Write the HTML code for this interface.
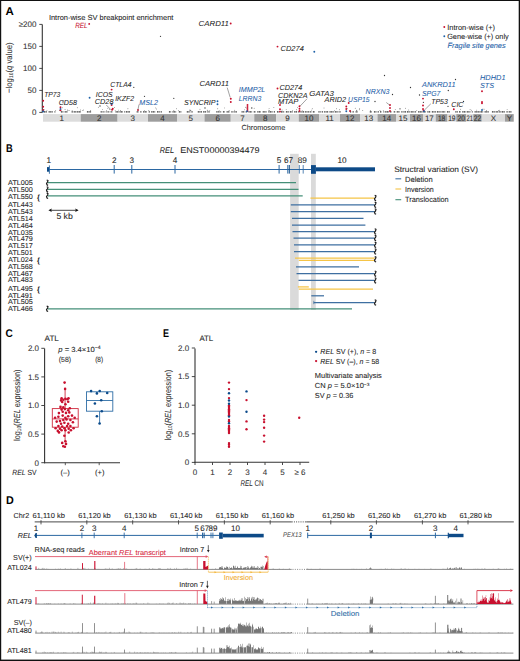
<!DOCTYPE html>
<html><head><meta charset="utf-8"><style>
html,body{margin:0;padding:0;background:#fff;width:520px;height:661px;overflow:hidden;}
svg{display:block;font-family:"Liberation Sans",sans-serif;text-rendering:geometricPrecision;}
</style></head><body>
<svg width="520" height="661" viewBox="0 0 520 661" font-family="Liberation Sans, sans-serif">
<text x="5.40" y="14.80" font-size="11.2" fill="#000" font-weight="bold" textLength="8.30" lengthAdjust="spacingAndGlyphs">A</text>
<text x="48.90" y="19.93" font-size="7.4" fill="#262626" stroke="#262626" stroke-width="0.08" textLength="124.50" lengthAdjust="spacingAndGlyphs">Intron-wise SV breakpoint enrichment</text>
<text x="75.30" y="28.30" font-size="7.6" fill="#c8102e" stroke="#c8102e" stroke-width="0.08" font-style="italic" textLength="12.30" lengthAdjust="spacingAndGlyphs">REL</text>
<circle cx="89.20" cy="23.90" r="0.95" fill="#c8102e"/>
<line x1="42.30" y1="24.40" x2="42.30" y2="112.60" stroke="#333" stroke-width="1.1" />
<line x1="39.30" y1="24.40" x2="42.30" y2="24.40" stroke="#333" stroke-width="0.9" />
<text x="36.40" y="27.24" font-size="8.0" fill="#333" stroke="#333" stroke-width="0.08" text-anchor="end">≥200</text>
<line x1="39.30" y1="46.40" x2="42.30" y2="46.40" stroke="#333" stroke-width="0.9" />
<text x="36.40" y="49.24" font-size="8.0" fill="#333" stroke="#333" stroke-width="0.08" text-anchor="end">150</text>
<line x1="39.30" y1="68.40" x2="42.30" y2="68.40" stroke="#333" stroke-width="0.9" />
<text x="36.40" y="71.24" font-size="8.0" fill="#333" stroke="#333" stroke-width="0.08" text-anchor="end">100</text>
<line x1="39.30" y1="90.40" x2="42.30" y2="90.40" stroke="#333" stroke-width="0.9" />
<text x="36.40" y="93.24" font-size="8.0" fill="#333" stroke="#333" stroke-width="0.08" text-anchor="end">50</text>
<line x1="39.30" y1="112.40" x2="42.30" y2="112.40" stroke="#333" stroke-width="0.9" />
<text x="36.40" y="115.24" font-size="8.0" fill="#333" stroke="#333" stroke-width="0.08" text-anchor="end">0</text>
<text x="8.55" y="70.75" font-size="8.6" fill="#333" stroke="#333" stroke-width="0.08" text-anchor="middle" textLength="50.60" lengthAdjust="spacingAndGlyphs" transform="rotate(-90 8.55 67.70)">−log<tspan font-size="5.5" dy="1.6">10</tspan><tspan dy="-1.6">(</tspan><tspan font-style="italic">q</tspan> value)</text>
<rect x="43.00" y="114.10" width="37.70" height="7.60" fill="#dcdcdc"/>
<rect x="80.70" y="114.10" width="36.90" height="7.60" fill="#9d9d9d"/>
<rect x="117.60" y="114.10" width="30.40" height="7.60" fill="#dcdcdc"/>
<rect x="148.00" y="114.10" width="29.00" height="7.60" fill="#9d9d9d"/>
<rect x="177.00" y="114.10" width="27.50" height="7.60" fill="#dcdcdc"/>
<rect x="204.50" y="114.10" width="26.25" height="7.60" fill="#9d9d9d"/>
<rect x="230.75" y="114.10" width="23.50" height="7.60" fill="#dcdcdc"/>
<rect x="254.25" y="114.10" width="22.00" height="7.60" fill="#9d9d9d"/>
<rect x="276.25" y="114.10" width="22.50" height="7.60" fill="#dcdcdc"/>
<rect x="298.75" y="114.10" width="20.50" height="7.60" fill="#9d9d9d"/>
<rect x="319.25" y="114.10" width="20.75" height="7.60" fill="#dcdcdc"/>
<rect x="340.00" y="114.10" width="20.00" height="7.60" fill="#9d9d9d"/>
<rect x="360.00" y="114.10" width="17.50" height="7.60" fill="#dcdcdc"/>
<rect x="377.50" y="114.10" width="18.50" height="7.60" fill="#9d9d9d"/>
<rect x="396.00" y="114.10" width="14.00" height="7.60" fill="#dcdcdc"/>
<rect x="410.00" y="114.10" width="13.00" height="7.60" fill="#9d9d9d"/>
<rect x="423.00" y="114.10" width="12.75" height="7.60" fill="#dcdcdc"/>
<rect x="435.75" y="114.10" width="11.75" height="7.60" fill="#9d9d9d"/>
<rect x="447.50" y="114.10" width="8.75" height="7.60" fill="#dcdcdc"/>
<rect x="456.25" y="114.10" width="10.00" height="7.60" fill="#9d9d9d"/>
<rect x="466.25" y="114.10" width="7.00" height="7.60" fill="#dcdcdc"/>
<rect x="473.25" y="114.10" width="8.50" height="7.60" fill="#9d9d9d"/>
<rect x="481.75" y="114.10" width="23.25" height="7.60" fill="#dcdcdc"/>
<rect x="505.00" y="114.10" width="8.75" height="7.60" fill="#9d9d9d"/>
<text x="61.85" y="120.94" font-size="8.0" fill="#333" stroke="#333" stroke-width="0.08" text-anchor="middle">1</text>
<text x="99.15" y="120.94" font-size="8.0" fill="#333" stroke="#333" stroke-width="0.08" text-anchor="middle">2</text>
<text x="132.80" y="120.94" font-size="8.0" fill="#333" stroke="#333" stroke-width="0.08" text-anchor="middle">3</text>
<text x="162.50" y="120.94" font-size="8.0" fill="#333" stroke="#333" stroke-width="0.08" text-anchor="middle">4</text>
<text x="190.75" y="120.94" font-size="8.0" fill="#333" stroke="#333" stroke-width="0.08" text-anchor="middle">5</text>
<text x="217.62" y="120.94" font-size="8.0" fill="#333" stroke="#333" stroke-width="0.08" text-anchor="middle">6</text>
<text x="242.50" y="120.94" font-size="8.0" fill="#333" stroke="#333" stroke-width="0.08" text-anchor="middle">7</text>
<text x="265.25" y="120.94" font-size="8.0" fill="#333" stroke="#333" stroke-width="0.08" text-anchor="middle">8</text>
<text x="287.50" y="120.94" font-size="8.0" fill="#333" stroke="#333" stroke-width="0.08" text-anchor="middle">9</text>
<text x="309.00" y="120.94" font-size="8.0" fill="#333" stroke="#333" stroke-width="0.08" text-anchor="middle">10</text>
<text x="329.62" y="120.94" font-size="8.0" fill="#333" stroke="#333" stroke-width="0.08" text-anchor="middle">11</text>
<text x="350.00" y="120.94" font-size="8.0" fill="#333" stroke="#333" stroke-width="0.08" text-anchor="middle">12</text>
<text x="368.75" y="120.94" font-size="8.0" fill="#333" stroke="#333" stroke-width="0.08" text-anchor="middle">13</text>
<text x="386.75" y="120.94" font-size="8.0" fill="#333" stroke="#333" stroke-width="0.08" text-anchor="middle">14</text>
<text x="403.00" y="120.94" font-size="8.0" fill="#333" stroke="#333" stroke-width="0.08" text-anchor="middle">15</text>
<text x="416.50" y="120.94" font-size="8.0" fill="#333" stroke="#333" stroke-width="0.08" text-anchor="middle">16</text>
<text x="429.38" y="120.94" font-size="8.0" fill="#333" stroke="#333" stroke-width="0.08" text-anchor="middle">17</text>
<text x="437.93" y="120.94" font-size="8.0" fill="#333" stroke="#333" stroke-width="0.08" textLength="7.40" lengthAdjust="spacingAndGlyphs">18</text>
<text x="448.18" y="120.94" font-size="8.0" fill="#333" stroke="#333" stroke-width="0.08" textLength="7.40" lengthAdjust="spacingAndGlyphs">19</text>
<text x="457.55" y="120.94" font-size="8.0" fill="#333" stroke="#333" stroke-width="0.08" textLength="7.40" lengthAdjust="spacingAndGlyphs">20</text>
<text x="466.55" y="120.94" font-size="8.0" fill="#333" stroke="#333" stroke-width="0.08" textLength="6.40" lengthAdjust="spacingAndGlyphs">21</text>
<text x="473.80" y="120.94" font-size="8.0" fill="#333" stroke="#333" stroke-width="0.08" textLength="7.40" lengthAdjust="spacingAndGlyphs">22</text>
<text x="493.38" y="120.94" font-size="8.0" fill="#333" stroke="#333" stroke-width="0.08" text-anchor="middle">X</text>
<text x="509.38" y="120.94" font-size="8.0" fill="#333" stroke="#333" stroke-width="0.08" text-anchor="middle">Y</text>
<text x="241.40" y="129.63" font-size="7.4" fill="#333" stroke="#333" stroke-width="0.08" textLength="43.80" lengthAdjust="spacingAndGlyphs">Chromosome</text>
<path d="M44.00,111.8H46.98 M48.59,111.8H52.69 M54.48,111.8H55.38 M60.94,111.8H63.38 M64.64,111.8H67.45 M71.60,111.8H72.96 M73.65,111.8H76.61 M77.12,111.8H80.97 M86.91,111.8H91.08 M100.61,111.8H102.68 M103.38,111.8H104.41 M105.75,111.8H106.56 M107.54,111.8H109.42 M110.59,111.8H112.50 M115.52,111.8H118.94 M119.47,111.8H123.02 M124.33,111.8H125.17 M125.92,111.8H130.06 M136.66,111.8H138.70 M140.28,111.8H141.46 M143.08,111.8H146.89 M148.71,111.8H149.83 M151.19,111.8H155.20 M156.99,111.8H159.70 M160.64,111.8H162.07 M168.93,111.8H171.15 M172.48,111.8H176.17 M178.80,111.8H181.33 M186.76,111.8H190.32 M191.42,111.8H192.75 M197.74,111.8H201.96 M203.14,111.8H206.49 M207.40,111.8H209.61 M216.28,111.8H218.83 M219.45,111.8H221.20 M222.92,111.8H224.98 M226.57,111.8H229.80 M231.36,111.8H233.43 M234.33,111.8H236.83 M241.53,111.8H244.36 M245.63,111.8H247.31 M248.46,111.8H252.11 M253.73,111.8H255.75 M257.28,111.8H260.98 M262.66,111.8H266.50 M268.37,111.8H272.52 M273.76,111.8H275.14 M276.95,111.8H279.42 M280.93,111.8H284.29 M285.88,111.8H288.71 M289.80,111.8H292.79 M294.18,111.8H297.50 M298.22,111.8H300.57 M301.37,111.8H304.57 M305.13,111.8H307.58 M308.16,111.8H309.43 M310.18,111.8H311.66 M312.81,111.8H314.94 M318.40,111.8H320.62 M321.69,111.8H322.90 M323.92,111.8H324.84 M325.48,111.8H328.19 M329.50,111.8H333.65 M334.74,111.8H338.39 M339.40,111.8H340.70 M350.02,111.8H351.20 M352.56,111.8H353.85 M355.60,111.8H357.72 M369.79,111.8H372.04 M373.92,111.8H376.44 M377.61,111.8H378.84 M379.96,111.8H381.78 M383.44,111.8H384.29 M385.17,111.8H389.24 M390.09,111.8H391.82 M393.71,111.8H395.53 M396.70,111.8H399.76 M401.30,111.8H402.51 M403.43,111.8H406.10 M407.01,111.8H409.67 M410.67,111.8H414.08 M414.63,111.8H416.32 M418.10,111.8H422.01 M422.53,111.8H426.05 M427.36,111.8H430.64 M431.81,111.8H435.80 M436.85,111.8H440.63 M441.55,111.8H445.25 M446.92,111.8H450.15 M455.29,111.8H457.76 M458.96,111.8H460.92 M462.24,111.8H465.88 M466.70,111.8H470.37 M471.80,111.8H472.69 M474.56,111.8H478.85 M479.42,111.8H483.17 M484.57,111.8H488.70 M491.93,111.8H494.86 M495.59,111.8H498.57 M499.22,111.8H501.35 M501.93,111.8H504.74 M506.47,111.8H507.74 M508.68,111.8H511.58" stroke="#333" stroke-width="1.15" fill="none" stroke-dasharray="1.2,0.4"/>
<circle cx="219.12" cy="110.59" r="0.45" fill="#555"/>
<circle cx="370.33" cy="110.52" r="0.45" fill="#555"/>
<circle cx="339.47" cy="109.70" r="0.45" fill="#555"/>
<circle cx="470.08" cy="109.52" r="0.45" fill="#555"/>
<circle cx="334.57" cy="110.36" r="0.45" fill="#555"/>
<circle cx="302.18" cy="110.37" r="0.45" fill="#555"/>
<circle cx="395.27" cy="109.66" r="0.45" fill="#555"/>
<circle cx="106.61" cy="110.41" r="0.45" fill="#555"/>
<circle cx="217.73" cy="108.70" r="0.45" fill="#555"/>
<circle cx="127.92" cy="108.82" r="0.45" fill="#555"/>
<circle cx="350.55" cy="110.57" r="0.45" fill="#555"/>
<circle cx="356.60" cy="110.57" r="0.45" fill="#555"/>
<circle cx="102.40" cy="109.37" r="0.45" fill="#555"/>
<circle cx="155.66" cy="107.91" r="0.45" fill="#555"/>
<circle cx="268.86" cy="110.23" r="0.45" fill="#555"/>
<circle cx="416.74" cy="110.60" r="0.45" fill="#555"/>
<circle cx="383.30" cy="110.59" r="0.45" fill="#555"/>
<circle cx="114.57" cy="107.43" r="0.45" fill="#555"/>
<circle cx="362.76" cy="110.43" r="0.45" fill="#555"/>
<circle cx="98.32" cy="107.29" r="0.45" fill="#555"/>
<circle cx="355.25" cy="108.24" r="0.45" fill="#555"/>
<circle cx="109.41" cy="109.23" r="0.45" fill="#555"/>
<circle cx="209.81" cy="110.41" r="0.45" fill="#555"/>
<circle cx="199.97" cy="109.28" r="0.45" fill="#555"/>
<circle cx="207.18" cy="110.08" r="0.45" fill="#555"/>
<circle cx="107.85" cy="108.18" r="0.45" fill="#555"/>
<circle cx="347.21" cy="108.33" r="0.45" fill="#555"/>
<circle cx="246.83" cy="108.06" r="0.45" fill="#555"/>
<circle cx="286.19" cy="109.37" r="0.45" fill="#555"/>
<circle cx="312.28" cy="108.68" r="0.45" fill="#555"/>
<circle cx="229.10" cy="110.57" r="0.45" fill="#555"/>
<circle cx="59.52" cy="110.46" r="0.45" fill="#555"/>
<circle cx="62.46" cy="107.83" r="0.45" fill="#555"/>
<circle cx="269.10" cy="108.58" r="0.45" fill="#555"/>
<circle cx="44.21" cy="109.83" r="0.45" fill="#555"/>
<circle cx="460.42" cy="109.26" r="0.45" fill="#555"/>
<circle cx="244.61" cy="109.84" r="0.45" fill="#555"/>
<circle cx="90.68" cy="110.52" r="0.45" fill="#555"/>
<circle cx="118.43" cy="110.11" r="0.45" fill="#555"/>
<circle cx="224.49" cy="107.89" r="0.45" fill="#555"/>
<circle cx="115.19" cy="110.37" r="0.45" fill="#555"/>
<circle cx="173.84" cy="110.51" r="0.45" fill="#555"/>
<circle cx="178.34" cy="110.41" r="0.45" fill="#555"/>
<circle cx="269.59" cy="110.60" r="0.45" fill="#555"/>
<circle cx="476.68" cy="110.12" r="0.45" fill="#555"/>
<circle cx="482.96" cy="108.94" r="0.45" fill="#555"/>
<circle cx="359.34" cy="109.82" r="0.45" fill="#555"/>
<circle cx="486.45" cy="110.55" r="0.45" fill="#555"/>
<circle cx="356.89" cy="110.30" r="0.45" fill="#555"/>
<circle cx="359.65" cy="108.74" r="0.45" fill="#555"/>
<circle cx="120.39" cy="110.46" r="0.45" fill="#555"/>
<circle cx="55.67" cy="110.41" r="0.45" fill="#555"/>
<circle cx="80.60" cy="110.04" r="0.45" fill="#555"/>
<circle cx="499.64" cy="110.14" r="0.45" fill="#555"/>
<circle cx="189.94" cy="109.83" r="0.45" fill="#555"/>
<circle cx="176.51" cy="108.72" r="0.45" fill="#555"/>
<circle cx="379.99" cy="110.51" r="0.45" fill="#555"/>
<circle cx="156.57" cy="109.02" r="0.45" fill="#555"/>
<circle cx="484.15" cy="109.14" r="0.45" fill="#555"/>
<circle cx="245.54" cy="107.27" r="0.45" fill="#555"/>
<circle cx="46.94" cy="110.59" r="0.45" fill="#555"/>
<circle cx="408.70" cy="110.01" r="0.45" fill="#555"/>
<circle cx="65.04" cy="109.55" r="0.45" fill="#555"/>
<circle cx="507.14" cy="109.66" r="0.45" fill="#555"/>
<circle cx="207.81" cy="110.57" r="0.45" fill="#555"/>
<circle cx="77.33" cy="107.77" r="0.45" fill="#555"/>
<circle cx="273.86" cy="107.54" r="0.45" fill="#555"/>
<circle cx="69.16" cy="110.39" r="0.45" fill="#555"/>
<circle cx="67.61" cy="110.05" r="0.45" fill="#555"/>
<circle cx="72.14" cy="110.37" r="0.45" fill="#555"/>
<circle cx="234.70" cy="110.27" r="0.45" fill="#555"/>
<circle cx="68.03" cy="110.60" r="0.45" fill="#555"/>
<circle cx="498.72" cy="110.49" r="0.45" fill="#555"/>
<circle cx="282.04" cy="110.03" r="0.45" fill="#555"/>
<circle cx="292.65" cy="110.58" r="0.45" fill="#555"/>
<circle cx="190.90" cy="110.56" r="0.45" fill="#555"/>
<circle cx="297.63" cy="107.63" r="0.45" fill="#555"/>
<circle cx="324.00" cy="108.03" r="0.45" fill="#555"/>
<circle cx="144.34" cy="110.60" r="0.45" fill="#555"/>
<circle cx="296.55" cy="109.77" r="0.45" fill="#555"/>
<circle cx="311.43" cy="110.10" r="0.45" fill="#555"/>
<circle cx="336.55" cy="108.76" r="0.45" fill="#555"/>
<circle cx="471.28" cy="110.27" r="0.45" fill="#555"/>
<circle cx="254.15" cy="108.21" r="0.45" fill="#555"/>
<circle cx="148.82" cy="110.55" r="0.45" fill="#555"/>
<circle cx="189.88" cy="110.57" r="0.45" fill="#555"/>
<circle cx="405.49" cy="108.25" r="0.45" fill="#555"/>
<circle cx="190.43" cy="110.54" r="0.45" fill="#555"/>
<circle cx="82.37" cy="110.39" r="0.45" fill="#555"/>
<circle cx="83.46" cy="109.96" r="0.45" fill="#555"/>
<circle cx="160.50" cy="36.30" r="0.65" fill="#333"/>
<circle cx="173.80" cy="98.30" r="0.65" fill="#333"/>
<circle cx="144.50" cy="96.30" r="0.65" fill="#333"/>
<circle cx="251.80" cy="108.00" r="0.65" fill="#333"/>
<circle cx="384.50" cy="75.50" r="0.65" fill="#333"/>
<circle cx="375.00" cy="101.50" r="0.65" fill="#333"/>
<circle cx="410.50" cy="87.50" r="0.65" fill="#333"/>
<circle cx="392.50" cy="94.50" r="0.65" fill="#333"/>
<circle cx="455.50" cy="79.50" r="0.65" fill="#333"/>
<circle cx="419.50" cy="95.00" r="0.65" fill="#333"/>
<circle cx="448.30" cy="90.50" r="0.65" fill="#333"/>
<circle cx="423.40" cy="102.30" r="0.65" fill="#333"/>
<circle cx="448.00" cy="106.30" r="0.65" fill="#333"/>
<circle cx="400.00" cy="108.80" r="0.65" fill="#333"/>
<circle cx="133.80" cy="87.30" r="0.65" fill="#333"/>
<circle cx="463.50" cy="101.50" r="0.65" fill="#333"/>
<circle cx="63.00" cy="102.00" r="0.65" fill="#333"/>
<circle cx="100.00" cy="106.00" r="0.65" fill="#333"/>
<circle cx="205.00" cy="108.00" r="0.65" fill="#333"/>
<circle cx="43.20" cy="100.70" r="0.95" fill="#c8102e"/>
<circle cx="43.20" cy="106.70" r="0.95" fill="#c8102e"/>
<circle cx="43.20" cy="110.00" r="0.95" fill="#c8102e"/>
<circle cx="60.50" cy="107.30" r="0.95" fill="#c8102e"/>
<circle cx="60.50" cy="110.30" r="0.95" fill="#c8102e"/>
<circle cx="111.60" cy="89.60" r="0.95" fill="#c8102e"/>
<circle cx="111.60" cy="105.00" r="0.95" fill="#c8102e"/>
<circle cx="112.10" cy="109.80" r="0.95" fill="#c8102e"/>
<circle cx="112.80" cy="108.80" r="0.95" fill="#c8102e"/>
<circle cx="138.00" cy="110.00" r="0.95" fill="#c8102e"/>
<circle cx="230.70" cy="23.50" r="0.95" fill="#c8102e"/>
<circle cx="230.80" cy="98.80" r="0.95" fill="#c8102e"/>
<circle cx="230.80" cy="102.00" r="0.95" fill="#c8102e"/>
<circle cx="247.50" cy="105.00" r="0.95" fill="#c8102e"/>
<circle cx="247.50" cy="107.00" r="0.95" fill="#c8102e"/>
<circle cx="247.50" cy="109.00" r="0.95" fill="#c8102e"/>
<circle cx="247.50" cy="111.00" r="0.95" fill="#c8102e"/>
<circle cx="277.50" cy="46.60" r="0.95" fill="#c8102e"/>
<circle cx="277.50" cy="88.50" r="0.95" fill="#c8102e"/>
<circle cx="280.00" cy="105.00" r="0.95" fill="#c8102e"/>
<circle cx="280.00" cy="109.20" r="0.95" fill="#c8102e"/>
<circle cx="280.00" cy="111.60" r="0.95" fill="#c8102e"/>
<circle cx="299.50" cy="106.20" r="0.95" fill="#c8102e"/>
<circle cx="299.50" cy="108.70" r="0.95" fill="#c8102e"/>
<circle cx="299.50" cy="111.00" r="0.95" fill="#c8102e"/>
<circle cx="346.30" cy="106.50" r="0.95" fill="#c8102e"/>
<circle cx="346.30" cy="109.00" r="0.95" fill="#c8102e"/>
<circle cx="348.70" cy="103.00" r="0.95" fill="#c8102e"/>
<circle cx="350.00" cy="111.00" r="0.95" fill="#c8102e"/>
<circle cx="390.00" cy="105.00" r="0.95" fill="#c8102e"/>
<circle cx="390.00" cy="108.00" r="0.95" fill="#c8102e"/>
<circle cx="390.00" cy="111.00" r="0.95" fill="#c8102e"/>
<circle cx="423.00" cy="98.60" r="0.95" fill="#c8102e"/>
<circle cx="423.00" cy="105.50" r="0.95" fill="#c8102e"/>
<circle cx="423.00" cy="109.00" r="0.95" fill="#c8102e"/>
<circle cx="423.60" cy="110.40" r="0.95" fill="#c8102e"/>
<circle cx="453.80" cy="109.30" r="0.95" fill="#c8102e"/>
<circle cx="482.00" cy="91.20" r="0.95" fill="#c8102e"/>
<circle cx="482.00" cy="102.00" r="0.95" fill="#c8102e"/>
<circle cx="482.00" cy="103.20" r="0.95" fill="#c8102e"/>
<circle cx="43.20" cy="111.50" r="0.95" fill="#1f62a8"/>
<circle cx="60.50" cy="108.90" r="0.95" fill="#1f62a8"/>
<circle cx="89.60" cy="97.70" r="0.95" fill="#1f62a8"/>
<circle cx="111.60" cy="104.00" r="0.95" fill="#1f62a8"/>
<circle cx="217.50" cy="101.30" r="0.95" fill="#1f62a8"/>
<circle cx="217.50" cy="104.30" r="0.95" fill="#1f62a8"/>
<circle cx="314.30" cy="51.80" r="0.95" fill="#1f62a8"/>
<circle cx="247.00" cy="111.30" r="0.95" fill="#1f62a8"/>
<circle cx="482.00" cy="110.00" r="0.95" fill="#1f62a8"/>
<circle cx="346.30" cy="111.30" r="0.95" fill="#1f62a8"/>
<circle cx="424.00" cy="111.30" r="0.95" fill="#1f62a8"/>
<text x="44.20" y="96.99" font-size="7.3" fill="#262626" stroke="#262626" stroke-width="0.05" font-style="italic" textLength="16.00" lengthAdjust="spacingAndGlyphs">TP73</text>
<text x="58.70" y="104.69" font-size="7.3" fill="#262626" stroke="#262626" stroke-width="0.05" font-style="italic" textLength="18.20" lengthAdjust="spacingAndGlyphs">CD58</text>
<text x="95.80" y="96.99" font-size="7.3" fill="#262626" stroke="#262626" stroke-width="0.05" font-style="italic" textLength="16.90" lengthAdjust="spacingAndGlyphs">ICOS</text>
<text x="94.80" y="103.79" font-size="7.3" fill="#262626" stroke="#262626" stroke-width="0.05" font-style="italic" textLength="18.70" lengthAdjust="spacingAndGlyphs">CD28</text>
<text x="110.30" y="86.89" font-size="7.3" fill="#262626" stroke="#262626" stroke-width="0.05" font-style="italic" textLength="21.20" lengthAdjust="spacingAndGlyphs">CTLA4</text>
<text x="115.20" y="101.29" font-size="7.3" fill="#262626" stroke="#262626" stroke-width="0.05" font-style="italic" textLength="18.90" lengthAdjust="spacingAndGlyphs">IKZF2</text>
<text x="139.30" y="104.79" font-size="7.3" fill="#1f62a8" stroke="#1f62a8" stroke-width="0.05" font-style="italic" textLength="18.70" lengthAdjust="spacingAndGlyphs">MSL2</text>
<text x="184.00" y="104.99" font-size="7.3" fill="#262626" stroke="#262626" stroke-width="0.05" font-style="italic" textLength="31.50" lengthAdjust="spacingAndGlyphs">SYNCRIP</text>
<text x="198.60" y="26.19" font-size="7.3" fill="#262626" stroke="#262626" stroke-width="0.05" font-style="italic" textLength="30.40" lengthAdjust="spacingAndGlyphs">CARD11</text>
<text x="199.50" y="86.09" font-size="7.3" fill="#262626" stroke="#262626" stroke-width="0.05" font-style="italic" textLength="29.50" lengthAdjust="spacingAndGlyphs">CARD11</text>
<text x="238.80" y="91.89" font-size="7.3" fill="#1f62a8" stroke="#1f62a8" stroke-width="0.05" font-style="italic" textLength="26.50" lengthAdjust="spacingAndGlyphs">IMMP2L</text>
<text x="238.80" y="100.99" font-size="7.3" fill="#1f62a8" stroke="#1f62a8" stroke-width="0.05" font-style="italic" textLength="22.50" lengthAdjust="spacingAndGlyphs">LRRN3</text>
<text x="280.60" y="50.59" font-size="7.3" fill="#262626" stroke="#262626" stroke-width="0.05" font-style="italic" textLength="23.20" lengthAdjust="spacingAndGlyphs">CD274</text>
<text x="279.60" y="89.59" font-size="7.3" fill="#262626" stroke="#262626" stroke-width="0.05" font-style="italic" textLength="22.60" lengthAdjust="spacingAndGlyphs">CD274</text>
<text x="278.00" y="97.89" font-size="7.3" fill="#262626" stroke="#262626" stroke-width="0.05" font-style="italic" textLength="29.50" lengthAdjust="spacingAndGlyphs">CDKN2A</text>
<text x="278.00" y="104.39" font-size="7.3" fill="#262626" stroke="#262626" stroke-width="0.05" font-style="italic" textLength="20.30" lengthAdjust="spacingAndGlyphs">MTAP</text>
<text x="309.30" y="96.39" font-size="7.3" fill="#262626" stroke="#262626" stroke-width="0.05" font-style="italic" textLength="24.50" lengthAdjust="spacingAndGlyphs">GATA3</text>
<text x="324.60" y="102.09" font-size="7.3" fill="#262626" stroke="#262626" stroke-width="0.05" font-style="italic" textLength="21.50" lengthAdjust="spacingAndGlyphs">ARID2</text>
<text x="348.10" y="102.09" font-size="7.3" fill="#1f62a8" stroke="#1f62a8" stroke-width="0.05" font-style="italic" textLength="21.50" lengthAdjust="spacingAndGlyphs">USP15</text>
<text x="365.60" y="93.59" font-size="7.3" fill="#1f62a8" stroke="#1f62a8" stroke-width="0.05" font-style="italic" textLength="23.80" lengthAdjust="spacingAndGlyphs">NRXN3</text>
<text x="422.00" y="87.09" font-size="7.3" fill="#1f62a8" stroke="#1f62a8" stroke-width="0.05" font-style="italic" textLength="33.50" lengthAdjust="spacingAndGlyphs">ANKRD11</text>
<text x="422.00" y="96.39" font-size="7.3" fill="#1f62a8" stroke="#1f62a8" stroke-width="0.05" font-style="italic" textLength="18.30" lengthAdjust="spacingAndGlyphs">SPG7</text>
<text x="431.30" y="103.89" font-size="7.3" fill="#262626" stroke="#262626" stroke-width="0.05" font-style="italic" textLength="16.50" lengthAdjust="spacingAndGlyphs">TP53</text>
<text x="451.30" y="106.89" font-size="7.3" fill="#262626" stroke="#262626" stroke-width="0.05" font-style="italic" textLength="12.20" lengthAdjust="spacingAndGlyphs">CIC</text>
<text x="480.00" y="79.59" font-size="7.3" fill="#1f62a8" stroke="#1f62a8" stroke-width="0.05" font-style="italic" textLength="25.50" lengthAdjust="spacingAndGlyphs">HDHD1</text>
<text x="480.00" y="88.39" font-size="7.3" fill="#1f62a8" stroke="#1f62a8" stroke-width="0.05" font-style="italic" textLength="14.20" lengthAdjust="spacingAndGlyphs">STS</text>
<line x1="106.30" y1="105.00" x2="111.00" y2="109.80" stroke="#444" stroke-width="0.5" />
<line x1="227.20" y1="87.60" x2="230.20" y2="97.40" stroke="#444" stroke-width="0.5" />
<line x1="307.00" y1="98.80" x2="300.20" y2="106.00" stroke="#444" stroke-width="0.5" />
<line x1="386.30" y1="102.50" x2="389.60" y2="105.00" stroke="#444" stroke-width="0.5" />
<line x1="430.80" y1="103.80" x2="424.50" y2="110.00" stroke="#444" stroke-width="0.5" />
<line x1="139.00" y1="104.50" x2="138.00" y2="109.50" stroke="#444" stroke-width="0.5" />
<circle cx="444.30" cy="27.00" r="0.95" fill="#c8102e"/>
<text x="447.20" y="29.76" font-size="7.5" fill="#262626" stroke="#262626" stroke-width="0.08" textLength="47.80" lengthAdjust="spacingAndGlyphs">Intron-wise (+)</text>
<circle cx="444.30" cy="36.30" r="0.95" fill="#1f62a8"/>
<text x="447.20" y="38.96" font-size="7.5" fill="#262626" stroke="#262626" stroke-width="0.08" textLength="61.50" lengthAdjust="spacingAndGlyphs">Gene-wise (+) only</text>
<text x="447.60" y="47.76" font-size="7.5" fill="#1f62a8" stroke="#1f62a8" stroke-width="0.08" font-style="italic" textLength="58.00" lengthAdjust="spacingAndGlyphs">Fragile site genes</text>
<text x="6.00" y="151.90" font-size="11.2" fill="#000" font-weight="bold" textLength="6.70" lengthAdjust="spacingAndGlyphs">B</text>
<text x="159.70" y="153.18" font-size="8.4" fill="#262626" stroke="#262626" stroke-width="0.08" font-style="italic" textLength="14.30" lengthAdjust="spacingAndGlyphs">REL</text>
<text x="180.30" y="153.18" font-size="8.4" fill="#262626" stroke="#262626" stroke-width="0.08" textLength="79.30" lengthAdjust="spacingAndGlyphs">ENST00000394479</text>
<rect x="290.10" y="153.80" width="8.60" height="156.20" fill="#dadada"/>
<rect x="311.00" y="153.80" width="4.80" height="156.20" fill="#dadada"/>
<line x1="47.50" y1="169.50" x2="311.00" y2="169.50" stroke="#2b67a2" stroke-width="1.0" />
<rect x="47.00" y="167.10" width="2.30" height="4.60" fill="#0d4a87"/>
<line x1="49.40" y1="165.40" x2="49.40" y2="173.80" stroke="#2b67a2" stroke-width="0.9" />
<line x1="114.20" y1="165.00" x2="114.20" y2="173.60" stroke="#2b67a2" stroke-width="1.0" />
<line x1="131.80" y1="165.00" x2="131.80" y2="173.60" stroke="#2b67a2" stroke-width="1.0" />
<line x1="175.00" y1="165.00" x2="175.00" y2="173.60" stroke="#2b67a2" stroke-width="1.0" />
<line x1="279.10" y1="165.00" x2="279.10" y2="173.60" stroke="#2b67a2" stroke-width="1.0" />
<line x1="287.80" y1="165.00" x2="287.80" y2="173.60" stroke="#2b67a2" stroke-width="1.0" />
<line x1="289.30" y1="165.00" x2="289.30" y2="173.60" stroke="#0d4a87" stroke-width="1.0" />
<line x1="299.30" y1="165.00" x2="299.30" y2="173.60" stroke="#2b67a2" stroke-width="0.8" />
<line x1="303.20" y1="165.00" x2="303.20" y2="173.60" stroke="#2b67a2" stroke-width="0.8" />
<rect x="311.00" y="165.10" width="4.90" height="8.70" fill="#0d4a87"/>
<rect x="315.90" y="167.30" width="59.10" height="4.00" fill="#0d4a87"/>
<text x="48.90" y="163.01" font-size="8.2" fill="#262626" stroke="#262626" stroke-width="0.08" text-anchor="middle">1</text>
<text x="114.20" y="163.01" font-size="8.2" fill="#262626" stroke="#262626" stroke-width="0.08" text-anchor="middle">2</text>
<text x="131.80" y="163.01" font-size="8.2" fill="#262626" stroke="#262626" stroke-width="0.08" text-anchor="middle">3</text>
<text x="175.00" y="163.01" font-size="8.2" fill="#262626" stroke="#262626" stroke-width="0.08" text-anchor="middle">4</text>
<text x="279.00" y="163.01" font-size="8.2" fill="#262626" stroke="#262626" stroke-width="0.08" text-anchor="middle">5</text>
<text x="288.60" y="163.01" font-size="8.2" fill="#262626" stroke="#262626" stroke-width="0.08" text-anchor="middle">67</text>
<text x="302.30" y="163.01" font-size="8.2" fill="#262626" stroke="#262626" stroke-width="0.08" text-anchor="middle">89</text>
<text x="342.00" y="163.01" font-size="8.2" fill="#262626" stroke="#262626" stroke-width="0.08" text-anchor="middle">10</text>
<text x="8.10" y="184.82" font-size="7.1" fill="#262626" stroke="#262626" stroke-width="0.08" textLength="24.80" lengthAdjust="spacingAndGlyphs">ATL005</text>
<text x="8.10" y="191.62" font-size="7.1" fill="#262626" stroke="#262626" stroke-width="0.08" textLength="24.80" lengthAdjust="spacingAndGlyphs">ATL500</text>
<text x="8.10" y="199.42" font-size="7.1" fill="#262626" stroke="#262626" stroke-width="0.08" textLength="24.80" lengthAdjust="spacingAndGlyphs">ATL550</text>
<text x="8.10" y="207.42" font-size="7.1" fill="#262626" stroke="#262626" stroke-width="0.08" textLength="24.80" lengthAdjust="spacingAndGlyphs">ATL443</text>
<text x="8.10" y="214.22" font-size="7.1" fill="#262626" stroke="#262626" stroke-width="0.08" textLength="24.80" lengthAdjust="spacingAndGlyphs">ATL543</text>
<text x="8.10" y="221.12" font-size="7.1" fill="#262626" stroke="#262626" stroke-width="0.08" textLength="24.80" lengthAdjust="spacingAndGlyphs">ATL514</text>
<text x="8.10" y="228.02" font-size="7.1" fill="#262626" stroke="#262626" stroke-width="0.08" textLength="24.80" lengthAdjust="spacingAndGlyphs">ATL464</text>
<text x="8.10" y="234.62" font-size="7.1" fill="#262626" stroke="#262626" stroke-width="0.08" textLength="24.80" lengthAdjust="spacingAndGlyphs">ATL035</text>
<text x="8.10" y="241.42" font-size="7.1" fill="#262626" stroke="#262626" stroke-width="0.08" textLength="24.80" lengthAdjust="spacingAndGlyphs">ATL479</text>
<text x="8.10" y="248.22" font-size="7.1" fill="#262626" stroke="#262626" stroke-width="0.08" textLength="24.80" lengthAdjust="spacingAndGlyphs">ATL517</text>
<text x="8.10" y="254.82" font-size="7.1" fill="#262626" stroke="#262626" stroke-width="0.08" textLength="24.80" lengthAdjust="spacingAndGlyphs">ATL501</text>
<text x="8.10" y="262.22" font-size="7.1" fill="#262626" stroke="#262626" stroke-width="0.08" textLength="24.80" lengthAdjust="spacingAndGlyphs">ATL024</text>
<text x="8.10" y="268.82" font-size="7.1" fill="#262626" stroke="#262626" stroke-width="0.08" textLength="24.80" lengthAdjust="spacingAndGlyphs">ATL568</text>
<text x="8.10" y="275.62" font-size="7.1" fill="#262626" stroke="#262626" stroke-width="0.08" textLength="24.80" lengthAdjust="spacingAndGlyphs">ATL467</text>
<text x="8.10" y="282.42" font-size="7.1" fill="#262626" stroke="#262626" stroke-width="0.08" textLength="24.80" lengthAdjust="spacingAndGlyphs">ATL483</text>
<text x="8.10" y="290.72" font-size="7.1" fill="#262626" stroke="#262626" stroke-width="0.08" textLength="24.80" lengthAdjust="spacingAndGlyphs">ATL495</text>
<text x="8.10" y="297.62" font-size="7.1" fill="#262626" stroke="#262626" stroke-width="0.08" textLength="24.80" lengthAdjust="spacingAndGlyphs">ATL491</text>
<text x="8.10" y="304.42" font-size="7.1" fill="#262626" stroke="#262626" stroke-width="0.08" textLength="24.80" lengthAdjust="spacingAndGlyphs">ATL505</text>
<text x="8.10" y="311.22" font-size="7.1" fill="#262626" stroke="#262626" stroke-width="0.08" textLength="24.80" lengthAdjust="spacingAndGlyphs">ATL466</text>
<text x="37.00" y="200.30" font-size="7.6" fill="#262626" font-weight="bold">{</text>
<text x="37.00" y="263.10" font-size="7.6" fill="#262626" font-weight="bold">{</text>
<text x="37.00" y="291.60" font-size="7.6" fill="#262626" font-weight="bold">{</text>
<line x1="47.80" y1="182.70" x2="296.00" y2="182.70" stroke="#458f78" stroke-width="1.25" />
<path d="M46.70,180.00 L48.00,180.50 L47.50,182.20 L46.50,183.30 L47.00,184.90 L48.10,185.40" fill="none" stroke="#1e1e1e" stroke-width="1.2" stroke-linejoin="round"/>
<line x1="47.80" y1="189.40" x2="298.50" y2="189.40" stroke="#458f78" stroke-width="1.25" />
<path d="M46.70,186.70 L48.00,187.20 L47.50,188.90 L46.50,190.00 L47.00,191.60 L48.10,192.10" fill="none" stroke="#1e1e1e" stroke-width="1.2" stroke-linejoin="round"/>
<line x1="47.80" y1="195.80" x2="302.70" y2="195.80" stroke="#458f78" stroke-width="1.25" />
<path d="M46.70,193.10 L48.00,193.60 L47.50,195.30 L46.50,196.40 L47.00,198.00 L48.10,198.50" fill="none" stroke="#1e1e1e" stroke-width="1.2" stroke-linejoin="round"/>
<line x1="310.40" y1="198.10" x2="374.60" y2="198.10" stroke="#f5c446" stroke-width="1.25" />
<path d="M374.70,195.40 L376.00,195.90 L375.50,197.60 L374.50,198.70 L375.00,200.30 L376.10,200.80" fill="none" stroke="#1e1e1e" stroke-width="1.2" stroke-linejoin="round"/>
<line x1="290.80" y1="204.80" x2="374.60" y2="204.80" stroke="#3e6fa1" stroke-width="1.25" />
<path d="M374.70,202.10 L376.00,202.60 L375.50,204.30 L374.50,205.40 L375.00,207.00 L376.10,207.50" fill="none" stroke="#1e1e1e" stroke-width="1.2" stroke-linejoin="round"/>
<line x1="290.80" y1="211.50" x2="374.60" y2="211.50" stroke="#3e6fa1" stroke-width="1.25" />
<path d="M374.70,208.80 L376.00,209.30 L375.50,211.00 L374.50,212.10 L375.00,213.70 L376.10,214.20" fill="none" stroke="#1e1e1e" stroke-width="1.2" stroke-linejoin="round"/>
<line x1="292.00" y1="218.30" x2="363.50" y2="218.30" stroke="#3e6fa1" stroke-width="1.25" />
<line x1="292.00" y1="225.00" x2="365.40" y2="225.00" stroke="#3e6fa1" stroke-width="1.25" />
<line x1="292.50" y1="231.50" x2="374.60" y2="231.50" stroke="#3e6fa1" stroke-width="1.25" />
<path d="M374.70,228.80 L376.00,229.30 L375.50,231.00 L374.50,232.10 L375.00,233.70 L376.10,234.20" fill="none" stroke="#1e1e1e" stroke-width="1.2" stroke-linejoin="round"/>
<line x1="293.50" y1="238.10" x2="374.60" y2="238.10" stroke="#3e6fa1" stroke-width="1.25" />
<path d="M374.70,235.40 L376.00,235.90 L375.50,237.60 L374.50,238.70 L375.00,240.30 L376.10,240.80" fill="none" stroke="#1e1e1e" stroke-width="1.2" stroke-linejoin="round"/>
<line x1="294.00" y1="244.80" x2="374.60" y2="244.80" stroke="#3e6fa1" stroke-width="1.25" />
<path d="M374.70,242.10 L376.00,242.60 L375.50,244.30 L374.50,245.40 L375.00,247.00 L376.10,247.50" fill="none" stroke="#1e1e1e" stroke-width="1.2" stroke-linejoin="round"/>
<line x1="294.00" y1="251.50" x2="374.60" y2="251.50" stroke="#3e6fa1" stroke-width="1.25" />
<path d="M374.70,248.80 L376.00,249.30 L375.50,251.00 L374.50,252.10 L375.00,253.70 L376.10,254.20" fill="none" stroke="#1e1e1e" stroke-width="1.2" stroke-linejoin="round"/>
<line x1="295.00" y1="258.10" x2="374.60" y2="258.10" stroke="#f5c446" stroke-width="1.25" />
<line x1="298.80" y1="260.40" x2="374.60" y2="260.40" stroke="#f5c446" stroke-width="1.25" />
<path d="M374.70,256.60 L376.00,257.10 L375.50,258.80 L374.50,259.90 L375.00,261.50 L376.10,262.00" fill="none" stroke="#1e1e1e" stroke-width="1.2" stroke-linejoin="round"/>
<line x1="296.00" y1="266.90" x2="359.00" y2="266.90" stroke="#3e6fa1" stroke-width="1.25" />
<line x1="296.50" y1="273.70" x2="374.60" y2="273.70" stroke="#3e6fa1" stroke-width="1.25" />
<path d="M374.70,271.00 L376.00,271.50 L375.50,273.20 L374.50,274.30 L375.00,275.90 L376.10,276.40" fill="none" stroke="#1e1e1e" stroke-width="1.2" stroke-linejoin="round"/>
<line x1="298.50" y1="280.40" x2="374.60" y2="280.40" stroke="#3e6fa1" stroke-width="1.25" />
<path d="M374.70,277.70 L376.00,278.20 L375.50,279.90 L374.50,281.00 L375.00,282.60 L376.10,283.10" fill="none" stroke="#1e1e1e" stroke-width="1.2" stroke-linejoin="round"/>
<line x1="297.90" y1="286.90" x2="308.80" y2="286.90" stroke="#f5c446" stroke-width="1.25" />
<line x1="298.80" y1="289.20" x2="373.00" y2="289.20" stroke="#f5c446" stroke-width="1.25" />
<line x1="311.30" y1="295.80" x2="324.00" y2="295.80" stroke="#3e6fa1" stroke-width="1.25" />
<line x1="313.70" y1="302.50" x2="374.60" y2="302.50" stroke="#3e6fa1" stroke-width="1.25" />
<path d="M374.70,299.80 L376.00,300.30 L375.50,302.00 L374.50,303.10 L375.00,304.70 L376.10,305.20" fill="none" stroke="#1e1e1e" stroke-width="1.2" stroke-linejoin="round"/>
<line x1="47.80" y1="308.80" x2="352.00" y2="308.80" stroke="#458f78" stroke-width="1.25" />
<path d="M46.70,306.10 L48.00,306.60 L47.50,308.30 L46.50,309.40 L47.00,311.00 L48.10,311.50" fill="none" stroke="#1e1e1e" stroke-width="1.2" stroke-linejoin="round"/>
<line x1="313.80" y1="300.80" x2="313.80" y2="304.20" stroke="#3e6fa1" stroke-width="0.7" />
<line x1="50.00" y1="210.30" x2="77.50" y2="210.30" stroke="#333" stroke-width="0.9" />
<path d="M48.4,210.3 L51.8,208.6 L51.2,210.3 L51.8,212.0 Z" fill="#111"/>
<path d="M78.6,210.3 L75.2,208.6 L75.8,210.3 L75.2,212.0 Z" fill="#111"/>
<text x="56.40" y="219.02" font-size="8.5" fill="#262626" stroke="#262626" stroke-width="0.08" textLength="16.40" lengthAdjust="spacingAndGlyphs">5 kb</text>
<text x="394.20" y="172.00" font-size="7.9" fill="#262626" stroke="#262626" stroke-width="0.08" textLength="83.80" lengthAdjust="spacingAndGlyphs">Structral variation (SV)</text>
<line x1="395.40" y1="178.80" x2="401.20" y2="178.80" stroke="#3e6fa1" stroke-width="1.1" />
<text x="405.00" y="181.50" font-size="7.6" fill="#262626" stroke="#262626" stroke-width="0.08" textLength="27.70" lengthAdjust="spacingAndGlyphs">Deletion</text>
<line x1="395.40" y1="189.00" x2="401.20" y2="189.00" stroke="#f5c446" stroke-width="1.1" />
<text x="405.00" y="191.70" font-size="7.6" fill="#262626" stroke="#262626" stroke-width="0.08" textLength="28.80" lengthAdjust="spacingAndGlyphs">Inversion</text>
<line x1="395.40" y1="199.70" x2="401.20" y2="199.70" stroke="#458f78" stroke-width="1.1" />
<text x="405.00" y="202.40" font-size="7.6" fill="#262626" stroke="#262626" stroke-width="0.08" textLength="43.70" lengthAdjust="spacingAndGlyphs">Translocation</text>
<text x="5.60" y="337.20" font-size="11.2" fill="#000" font-weight="bold" textLength="7.30" lengthAdjust="spacingAndGlyphs">C</text>
<text x="44.60" y="341.07" font-size="7.8" fill="#262626" stroke="#262626" stroke-width="0.08" textLength="14.30" lengthAdjust="spacingAndGlyphs">ATL</text>
<line x1="44.60" y1="348.40" x2="44.60" y2="463.20" stroke="#333" stroke-width="1.1" />
<line x1="44.10" y1="462.70" x2="120.00" y2="462.70" stroke="#333" stroke-width="1.1" />
<line x1="41.30" y1="348.30" x2="44.60" y2="348.30" stroke="#333" stroke-width="0.9" />
<text x="39.00" y="351.14" font-size="8.0" fill="#333" stroke="#333" stroke-width="0.08" text-anchor="end">2.0</text>
<line x1="41.30" y1="376.90" x2="44.60" y2="376.90" stroke="#333" stroke-width="0.9" />
<text x="39.00" y="379.74" font-size="8.0" fill="#333" stroke="#333" stroke-width="0.08" text-anchor="end">1.5</text>
<line x1="41.30" y1="405.50" x2="44.60" y2="405.50" stroke="#333" stroke-width="0.9" />
<text x="39.00" y="408.34" font-size="8.0" fill="#333" stroke="#333" stroke-width="0.08" text-anchor="end">1.0</text>
<line x1="41.30" y1="434.10" x2="44.60" y2="434.10" stroke="#333" stroke-width="0.9" />
<text x="39.00" y="436.94" font-size="8.0" fill="#333" stroke="#333" stroke-width="0.08" text-anchor="end">0.5</text>
<line x1="41.30" y1="462.70" x2="44.60" y2="462.70" stroke="#333" stroke-width="0.9" />
<text x="39.00" y="465.54" font-size="8.0" fill="#333" stroke="#333" stroke-width="0.08" text-anchor="end">0</text>
<text x="58.30" y="351.53" font-size="7.4" fill="#262626" stroke="#262626" stroke-width="0.08" textLength="42.30" lengthAdjust="spacingAndGlyphs"><tspan font-style="italic">p</tspan> = 3.4×10<tspan font-size="5.0" dy="-2.6">−4</tspan></text>
<text x="58.80" y="362.03" font-size="7.4" fill="#262626" stroke="#262626" stroke-width="0.08" textLength="12.30" lengthAdjust="spacingAndGlyphs">(58)</text>
<text x="95.20" y="362.03" font-size="7.4" fill="#262626" stroke="#262626" stroke-width="0.08" textLength="7.90" lengthAdjust="spacingAndGlyphs">(8)</text>
<text x="16.58" y="408.32" font-size="8.8" fill="#333" stroke="#333" stroke-width="0.08" text-anchor="middle" textLength="71.40" lengthAdjust="spacingAndGlyphs" transform="rotate(-90 16.58 405.20)">log<tspan font-size="5.6" dy="1.6">10</tspan><tspan dy="-1.6">(</tspan><tspan font-style="italic">REL</tspan> expression)</text>
<text x="12.30" y="474.90" font-size="7.6" fill="#262626" stroke="#262626" stroke-width="0.08" textLength="24.20" lengthAdjust="spacingAndGlyphs"><tspan font-style="italic">REL</tspan> SV</text>
<text x="65.10" y="474.90" font-size="7.6" fill="#262626" stroke="#262626" stroke-width="0.08" text-anchor="middle">(–)</text>
<line x1="65.30" y1="462.70" x2="65.30" y2="465.20" stroke="#333" stroke-width="0.8" />
<text x="99.70" y="474.90" font-size="7.6" fill="#262626" stroke="#262626" stroke-width="0.08" text-anchor="middle">(+)</text>
<line x1="99.20" y1="462.70" x2="99.20" y2="465.20" stroke="#333" stroke-width="0.8" />
<rect x="52.3" y="408.6" width="25.9" height="18.6" fill="none" stroke="#cf2b3e" stroke-width="0.9"/>
<line x1="52.30" y1="418.90" x2="78.20" y2="418.90" stroke="#cf2b3e" stroke-width="0.9" />
<line x1="65.10" y1="388.90" x2="65.10" y2="408.60" stroke="#cf2b3e" stroke-width="0.9" />
<line x1="65.10" y1="427.20" x2="65.10" y2="442.30" stroke="#cf2b3e" stroke-width="0.9" />
<rect x="86.5" y="391.8" width="26.3" height="19.4" fill="none" stroke="#2f6ea6" stroke-width="0.9"/>
<line x1="86.50" y1="400.50" x2="112.80" y2="400.50" stroke="#2f6ea6" stroke-width="0.9" />
<line x1="99.60" y1="411.20" x2="99.60" y2="423.50" stroke="#2f6ea6" stroke-width="0.9" />
<circle cx="64.60" cy="382.60" r="1.3" fill="#c8102e"/>
<circle cx="65.10" cy="388.90" r="1.3" fill="#c8102e"/>
<circle cx="61.60" cy="398.20" r="1.3" fill="#c8102e"/>
<circle cx="65.40" cy="398.70" r="1.3" fill="#c8102e"/>
<circle cx="68.50" cy="398.20" r="1.3" fill="#c8102e"/>
<circle cx="61.10" cy="400.40" r="1.3" fill="#c8102e"/>
<circle cx="63.30" cy="399.80" r="1.3" fill="#c8102e"/>
<circle cx="67.40" cy="399.30" r="1.3" fill="#c8102e"/>
<circle cx="62.20" cy="402.00" r="1.3" fill="#c8102e"/>
<circle cx="68.20" cy="401.80" r="1.3" fill="#c8102e"/>
<circle cx="65.40" cy="404.20" r="1.3" fill="#c8102e"/>
<circle cx="60.50" cy="406.90" r="1.3" fill="#c8102e"/>
<circle cx="63.30" cy="407.40" r="1.3" fill="#c8102e"/>
<circle cx="69.80" cy="408.30" r="1.3" fill="#c8102e"/>
<circle cx="61.60" cy="409.60" r="1.3" fill="#c8102e"/>
<circle cx="64.90" cy="409.10" r="1.3" fill="#c8102e"/>
<circle cx="68.20" cy="410.20" r="1.3" fill="#c8102e"/>
<circle cx="58.90" cy="413.10" r="1.3" fill="#c8102e"/>
<circle cx="62.70" cy="411.80" r="1.3" fill="#c8102e"/>
<circle cx="66.00" cy="412.90" r="1.3" fill="#c8102e"/>
<circle cx="69.30" cy="412.40" r="1.3" fill="#c8102e"/>
<circle cx="55.10" cy="417.80" r="1.3" fill="#c8102e"/>
<circle cx="58.40" cy="416.70" r="1.3" fill="#c8102e"/>
<circle cx="62.70" cy="415.60" r="1.3" fill="#c8102e"/>
<circle cx="65.40" cy="417.80" r="1.3" fill="#c8102e"/>
<circle cx="68.20" cy="416.20" r="1.3" fill="#c8102e"/>
<circle cx="72.00" cy="415.60" r="1.3" fill="#c8102e"/>
<circle cx="74.70" cy="417.80" r="1.3" fill="#c8102e"/>
<circle cx="56.70" cy="421.60" r="1.3" fill="#c8102e"/>
<circle cx="60.00" cy="421.10" r="1.3" fill="#c8102e"/>
<circle cx="63.30" cy="420.00" r="1.3" fill="#c8102e"/>
<circle cx="66.50" cy="419.40" r="1.3" fill="#c8102e"/>
<circle cx="70.40" cy="420.00" r="1.3" fill="#c8102e"/>
<circle cx="72.90" cy="422.20" r="1.3" fill="#c8102e"/>
<circle cx="61.10" cy="423.80" r="1.3" fill="#c8102e"/>
<circle cx="64.40" cy="422.70" r="1.3" fill="#c8102e"/>
<circle cx="68.20" cy="423.80" r="1.3" fill="#c8102e"/>
<circle cx="58.40" cy="426.00" r="1.3" fill="#c8102e"/>
<circle cx="62.20" cy="426.50" r="1.3" fill="#c8102e"/>
<circle cx="67.10" cy="426.00" r="1.3" fill="#c8102e"/>
<circle cx="70.40" cy="426.00" r="1.3" fill="#c8102e"/>
<circle cx="55.60" cy="428.20" r="1.3" fill="#c8102e"/>
<circle cx="60.00" cy="428.70" r="1.3" fill="#c8102e"/>
<circle cx="64.40" cy="428.20" r="1.3" fill="#c8102e"/>
<circle cx="68.70" cy="428.70" r="1.3" fill="#c8102e"/>
<circle cx="73.60" cy="428.20" r="1.3" fill="#c8102e"/>
<circle cx="57.80" cy="430.90" r="1.3" fill="#c8102e"/>
<circle cx="61.60" cy="430.30" r="1.3" fill="#c8102e"/>
<circle cx="65.40" cy="430.30" r="1.3" fill="#c8102e"/>
<circle cx="70.90" cy="430.30" r="1.3" fill="#c8102e"/>
<circle cx="68.70" cy="432.50" r="1.3" fill="#c8102e"/>
<circle cx="64.40" cy="435.80" r="1.3" fill="#c8102e"/>
<circle cx="62.20" cy="442.90" r="1.3" fill="#c8102e"/>
<circle cx="65.40" cy="441.20" r="1.3" fill="#c8102e"/>
<circle cx="66.00" cy="443.90" r="1.3" fill="#c8102e"/>
<circle cx="63.30" cy="446.20" r="1.3" fill="#c8102e"/>
<circle cx="64.90" cy="446.70" r="1.3" fill="#c8102e"/>
<circle cx="59.00" cy="432.40" r="1.3" fill="#c8102e"/>
<circle cx="91.10" cy="391.10" r="1.3" fill="#0b4a8a"/>
<circle cx="99.70" cy="391.00" r="1.3" fill="#0b4a8a"/>
<circle cx="96.90" cy="393.40" r="1.3" fill="#0b4a8a"/>
<circle cx="107.20" cy="393.00" r="1.3" fill="#0b4a8a"/>
<circle cx="101.20" cy="400.30" r="1.3" fill="#0b4a8a"/>
<circle cx="94.90" cy="403.50" r="1.3" fill="#0b4a8a"/>
<circle cx="101.80" cy="411.20" r="1.3" fill="#0b4a8a"/>
<circle cx="96.90" cy="416.20" r="1.3" fill="#0b4a8a"/>
<circle cx="99.60" cy="423.50" r="1.3" fill="#0b4a8a"/>
<text x="163.00" y="337.30" font-size="11.2" fill="#000" font-weight="bold" textLength="6.00" lengthAdjust="spacingAndGlyphs">E</text>
<text x="199.40" y="341.37" font-size="7.8" fill="#262626" stroke="#262626" stroke-width="0.08" textLength="13.80" lengthAdjust="spacingAndGlyphs">ATL</text>
<line x1="195.00" y1="348.40" x2="195.00" y2="462.80" stroke="#333" stroke-width="1.1" />
<line x1="194.50" y1="462.30" x2="309.20" y2="462.30" stroke="#333" stroke-width="1.1" />
<line x1="191.80" y1="348.00" x2="195.00" y2="348.00" stroke="#333" stroke-width="0.9" />
<text x="189.20" y="350.84" font-size="8.0" fill="#333" stroke="#333" stroke-width="0.08" text-anchor="end">2.0</text>
<line x1="191.80" y1="376.60" x2="195.00" y2="376.60" stroke="#333" stroke-width="0.9" />
<text x="189.20" y="379.44" font-size="8.0" fill="#333" stroke="#333" stroke-width="0.08" text-anchor="end">1.5</text>
<line x1="191.80" y1="405.20" x2="195.00" y2="405.20" stroke="#333" stroke-width="0.9" />
<text x="189.20" y="408.04" font-size="8.0" fill="#333" stroke="#333" stroke-width="0.08" text-anchor="end">1.0</text>
<line x1="191.80" y1="433.80" x2="195.00" y2="433.80" stroke="#333" stroke-width="0.9" />
<text x="189.20" y="436.64" font-size="8.0" fill="#333" stroke="#333" stroke-width="0.08" text-anchor="end">0.5</text>
<line x1="191.80" y1="462.40" x2="195.00" y2="462.40" stroke="#333" stroke-width="0.9" />
<text x="189.20" y="465.24" font-size="8.0" fill="#333" stroke="#333" stroke-width="0.08" text-anchor="end">0</text>
<line x1="195.00" y1="462.30" x2="195.00" y2="465.00" stroke="#333" stroke-width="0.9" />
<text x="195.00" y="475.24" font-size="8.0" fill="#333" stroke="#333" stroke-width="0.08" text-anchor="middle">0</text>
<line x1="212.50" y1="462.30" x2="212.50" y2="465.00" stroke="#333" stroke-width="0.9" />
<text x="212.50" y="475.24" font-size="8.0" fill="#333" stroke="#333" stroke-width="0.08" text-anchor="middle">1</text>
<line x1="230.00" y1="462.30" x2="230.00" y2="465.00" stroke="#333" stroke-width="0.9" />
<text x="230.00" y="475.24" font-size="8.0" fill="#333" stroke="#333" stroke-width="0.08" text-anchor="middle">2</text>
<line x1="247.50" y1="462.30" x2="247.50" y2="465.00" stroke="#333" stroke-width="0.9" />
<text x="247.50" y="475.24" font-size="8.0" fill="#333" stroke="#333" stroke-width="0.08" text-anchor="middle">3</text>
<line x1="265.00" y1="462.30" x2="265.00" y2="465.00" stroke="#333" stroke-width="0.9" />
<text x="265.00" y="475.24" font-size="8.0" fill="#333" stroke="#333" stroke-width="0.08" text-anchor="middle">4</text>
<line x1="282.50" y1="462.30" x2="282.50" y2="465.00" stroke="#333" stroke-width="0.9" />
<text x="282.50" y="475.24" font-size="8.0" fill="#333" stroke="#333" stroke-width="0.08" text-anchor="middle">5</text>
<line x1="300.00" y1="462.30" x2="300.00" y2="465.00" stroke="#333" stroke-width="0.9" />
<text x="300.00" y="475.24" font-size="8.0" fill="#333" stroke="#333" stroke-width="0.08" text-anchor="middle">≥ 6</text>
<text x="240.50" y="486.18" font-size="8.4" fill="#333" stroke="#333" stroke-width="0.08" textLength="23.20" lengthAdjust="spacingAndGlyphs"><tspan font-style="italic">REL</tspan> CN</text>
<text x="167.58" y="408.12" font-size="8.8" fill="#333" stroke="#333" stroke-width="0.08" text-anchor="middle" textLength="70.50" lengthAdjust="spacingAndGlyphs" transform="rotate(-90 167.58 405.00)">log<tspan font-size="5.6" dy="1.6">10</tspan><tspan dy="-1.6">(</tspan><tspan font-style="italic">REL</tspan> expression)</text>
<circle cx="229.00" cy="382.60" r="1.2" fill="#c8102e"/>
<circle cx="229.00" cy="389.10" r="1.2" fill="#c8102e"/>
<circle cx="229.00" cy="398.10" r="1.2" fill="#c8102e"/>
<circle cx="229.00" cy="405.50" r="1.2" fill="#c8102e"/>
<circle cx="229.00" cy="406.80" r="1.2" fill="#c8102e"/>
<circle cx="229.00" cy="408.00" r="1.2" fill="#c8102e"/>
<circle cx="229.00" cy="409.20" r="1.2" fill="#c8102e"/>
<circle cx="229.00" cy="410.40" r="1.2" fill="#c8102e"/>
<circle cx="229.00" cy="411.60" r="1.2" fill="#c8102e"/>
<circle cx="229.00" cy="412.80" r="1.2" fill="#c8102e"/>
<circle cx="229.00" cy="414.00" r="1.2" fill="#c8102e"/>
<circle cx="229.00" cy="415.20" r="1.2" fill="#c8102e"/>
<circle cx="229.00" cy="419.90" r="1.2" fill="#c8102e"/>
<circle cx="229.00" cy="421.50" r="1.2" fill="#c8102e"/>
<circle cx="229.00" cy="425.90" r="1.2" fill="#c8102e"/>
<circle cx="229.00" cy="427.10" r="1.2" fill="#c8102e"/>
<circle cx="229.00" cy="428.30" r="1.2" fill="#c8102e"/>
<circle cx="229.00" cy="429.50" r="1.2" fill="#c8102e"/>
<circle cx="229.00" cy="430.70" r="1.2" fill="#c8102e"/>
<circle cx="229.00" cy="431.90" r="1.2" fill="#c8102e"/>
<circle cx="229.00" cy="433.10" r="1.2" fill="#c8102e"/>
<circle cx="229.00" cy="443.10" r="1.2" fill="#c8102e"/>
<circle cx="229.00" cy="444.80" r="1.2" fill="#c8102e"/>
<circle cx="229.00" cy="446.80" r="1.2" fill="#c8102e"/>
<circle cx="229.00" cy="393.20" r="1.2" fill="#0b4a8a"/>
<circle cx="229.00" cy="400.50" r="1.2" fill="#0b4a8a"/>
<circle cx="229.00" cy="403.80" r="1.2" fill="#0b4a8a"/>
<circle cx="229.00" cy="416.60" r="1.2" fill="#0b4a8a"/>
<circle cx="229.00" cy="423.20" r="1.2" fill="#0b4a8a"/>
<circle cx="246.50" cy="391.40" r="1.2" fill="#0b4a8a"/>
<circle cx="246.50" cy="400.10" r="1.2" fill="#c8102e"/>
<circle cx="246.50" cy="411.70" r="1.2" fill="#0b4a8a"/>
<circle cx="246.50" cy="421.40" r="1.2" fill="#c8102e"/>
<circle cx="246.50" cy="429.20" r="1.2" fill="#c8102e"/>
<circle cx="264.10" cy="415.70" r="1.2" fill="#c8102e"/>
<circle cx="264.10" cy="419.60" r="1.2" fill="#c8102e"/>
<circle cx="264.10" cy="422.10" r="1.2" fill="#c8102e"/>
<circle cx="264.10" cy="427.80" r="1.2" fill="#c8102e"/>
<circle cx="264.10" cy="435.60" r="1.2" fill="#c8102e"/>
<circle cx="264.10" cy="441.60" r="1.2" fill="#c8102e"/>
<circle cx="299.20" cy="417.70" r="1.2" fill="#c8102e"/>
<circle cx="316.10" cy="351.80" r="1.15" fill="#0b4a8a"/>
<text x="320.30" y="354.49" font-size="7.3" fill="#262626" stroke="#262626" stroke-width="0.08" textLength="56.00" lengthAdjust="spacingAndGlyphs"><tspan font-style="italic">REL</tspan> SV (+), <tspan font-style="italic">n</tspan> = 8</text>
<circle cx="316.10" cy="361.10" r="1.15" fill="#c8102e"/>
<text x="320.30" y="363.79" font-size="7.3" fill="#262626" stroke="#262626" stroke-width="0.08" textLength="58.90" lengthAdjust="spacingAndGlyphs"><tspan font-style="italic">REL</tspan> SV (–), <tspan font-style="italic">n</tspan> = 58</text>
<text x="314.80" y="378.49" font-size="7.3" fill="#262626" stroke="#262626" stroke-width="0.08" textLength="67.00" lengthAdjust="spacingAndGlyphs">Multivariate analysis</text>
<text x="314.80" y="388.29" font-size="7.3" fill="#262626" stroke="#262626" stroke-width="0.08" textLength="54.50" lengthAdjust="spacingAndGlyphs">CN <tspan font-style="italic">p</tspan> = 5.0×10<tspan font-size="4.6" dy="-2.3">−3</tspan></text>
<text x="314.80" y="397.99" font-size="7.3" fill="#262626" stroke="#262626" stroke-width="0.08" textLength="38.50" lengthAdjust="spacingAndGlyphs">SV <tspan font-style="italic">p</tspan> = 0.36</text>
<text x="6.00" y="503.70" font-size="11.2" fill="#000" font-weight="bold" textLength="7.80" lengthAdjust="spacingAndGlyphs">D</text>
<text x="13.50" y="517.56" font-size="7.2" fill="#262626" stroke="#262626" stroke-width="0.08" textLength="15.70" lengthAdjust="spacingAndGlyphs">Chr2</text>
<line x1="34.70" y1="521.90" x2="291.70" y2="521.90" stroke="#333" stroke-width="0.9" />
<line x1="291.70" y1="521.90" x2="306.20" y2="521.90" stroke="#333" stroke-width="0.9" stroke-dasharray="1,1.2"/>
<line x1="306.20" y1="521.90" x2="513.80" y2="521.90" stroke="#333" stroke-width="0.9" />
<line x1="41.00" y1="520.20" x2="41.00" y2="524.40" stroke="#333" stroke-width="0.8" />
<text x="32.50" y="517.56" font-size="7.2" fill="#262626" stroke="#262626" stroke-width="0.08" textLength="32.40" lengthAdjust="spacingAndGlyphs">61,110 kb</text>
<line x1="86.84" y1="520.20" x2="86.84" y2="524.40" stroke="#333" stroke-width="0.8" />
<text x="78.34" y="517.56" font-size="7.2" fill="#262626" stroke="#262626" stroke-width="0.08" textLength="32.40" lengthAdjust="spacingAndGlyphs">61,120 kb</text>
<line x1="132.68" y1="520.20" x2="132.68" y2="524.40" stroke="#333" stroke-width="0.8" />
<text x="124.18" y="517.56" font-size="7.2" fill="#262626" stroke="#262626" stroke-width="0.08" textLength="32.40" lengthAdjust="spacingAndGlyphs">61,130 kb</text>
<line x1="178.52" y1="520.20" x2="178.52" y2="524.40" stroke="#333" stroke-width="0.8" />
<text x="170.02" y="517.56" font-size="7.2" fill="#262626" stroke="#262626" stroke-width="0.08" textLength="32.40" lengthAdjust="spacingAndGlyphs">61,140 kb</text>
<line x1="224.36" y1="520.20" x2="224.36" y2="524.40" stroke="#333" stroke-width="0.8" />
<text x="215.86" y="517.56" font-size="7.2" fill="#262626" stroke="#262626" stroke-width="0.08" textLength="32.40" lengthAdjust="spacingAndGlyphs">61,150 kb</text>
<line x1="270.20" y1="520.20" x2="270.20" y2="524.40" stroke="#333" stroke-width="0.8" />
<text x="261.70" y="517.56" font-size="7.2" fill="#262626" stroke="#262626" stroke-width="0.08" textLength="32.40" lengthAdjust="spacingAndGlyphs">61,160 kb</text>
<line x1="330.80" y1="520.20" x2="330.80" y2="524.40" stroke="#333" stroke-width="0.8" />
<text x="322.30" y="517.56" font-size="7.2" fill="#262626" stroke="#262626" stroke-width="0.08" textLength="32.40" lengthAdjust="spacingAndGlyphs">61,250 kb</text>
<line x1="376.40" y1="520.20" x2="376.40" y2="524.40" stroke="#333" stroke-width="0.8" />
<text x="367.90" y="517.56" font-size="7.2" fill="#262626" stroke="#262626" stroke-width="0.08" textLength="32.40" lengthAdjust="spacingAndGlyphs">61,260 kb</text>
<line x1="422.40" y1="520.20" x2="422.40" y2="524.40" stroke="#333" stroke-width="0.8" />
<text x="413.90" y="517.56" font-size="7.2" fill="#262626" stroke="#262626" stroke-width="0.08" textLength="32.40" lengthAdjust="spacingAndGlyphs">61,270 kb</text>
<line x1="468.00" y1="520.20" x2="468.00" y2="524.40" stroke="#333" stroke-width="0.8" />
<text x="459.50" y="517.56" font-size="7.2" fill="#262626" stroke="#262626" stroke-width="0.08" textLength="32.40" lengthAdjust="spacingAndGlyphs">61,280 kb</text>
<line x1="35.50" y1="535.40" x2="219.00" y2="535.40" stroke="#2b67a2" stroke-width="1.0" />
<path d="M34.4,535.6 L35.6,533.1 L36.9,533.1 L36.9,538.0 L35.6,538.0 Z" fill="#0d4a87"/>
<line x1="81.90" y1="532.60" x2="81.90" y2="538.20" stroke="#2b67a2" stroke-width="0.9" />
<line x1="94.20" y1="532.60" x2="94.20" y2="538.20" stroke="#2b67a2" stroke-width="0.9" />
<line x1="124.20" y1="532.60" x2="124.20" y2="538.20" stroke="#2b67a2" stroke-width="0.9" />
<line x1="197.20" y1="532.60" x2="197.20" y2="538.20" stroke="#2b67a2" stroke-width="0.9" />
<line x1="211.00" y1="532.60" x2="211.00" y2="538.20" stroke="#2b67a2" stroke-width="0.9" />
<line x1="212.90" y1="532.60" x2="212.90" y2="538.20" stroke="#2b67a2" stroke-width="0.9" />
<line x1="202.50" y1="532.60" x2="202.50" y2="538.20" stroke="#2b67a2" stroke-width="1.0" />
<line x1="204.10" y1="532.60" x2="204.10" y2="538.20" stroke="#0d4a87" stroke-width="1.0" />
<rect x="219.10" y="532.50" width="3.70" height="6.30" fill="#0d4a87"/>
<rect x="222.80" y="533.80" width="40.90" height="3.60" fill="#0d4a87"/>
<text x="36.10" y="531.14" font-size="8.0" fill="#262626" stroke="#262626" stroke-width="0.08" text-anchor="middle">1</text>
<text x="81.90" y="531.14" font-size="8.0" fill="#262626" stroke="#262626" stroke-width="0.08" text-anchor="middle">2</text>
<text x="94.20" y="531.14" font-size="8.0" fill="#262626" stroke="#262626" stroke-width="0.08" text-anchor="middle">3</text>
<text x="124.20" y="531.14" font-size="8.0" fill="#262626" stroke="#262626" stroke-width="0.08" text-anchor="middle">4</text>
<text x="196.80" y="531.14" font-size="8.0" fill="#262626" stroke="#262626" stroke-width="0.08" text-anchor="middle">5</text>
<text x="204.80" y="531.14" font-size="8.0" fill="#262626" stroke="#262626" stroke-width="0.08" text-anchor="middle">67</text>
<text x="213.00" y="531.14" font-size="8.0" fill="#262626" stroke="#262626" stroke-width="0.08" text-anchor="middle">89</text>
<text x="235.40" y="531.14" font-size="8.0" fill="#262626" stroke="#262626" stroke-width="0.08" text-anchor="middle">10</text>
<text x="31.80" y="538.16" font-size="7.2" fill="#262626" stroke="#262626" stroke-width="0.08" text-anchor="end" font-style="italic">REL</text>
<text x="283.00" y="537.45" font-size="6.9" fill="#444" font-style="italic" textLength="18.50" lengthAdjust="spacingAndGlyphs">PEX13</text>
<line x1="307.70" y1="535.40" x2="448.60" y2="535.40" stroke="#2b67a2" stroke-width="1.0" />
<line x1="307.70" y1="532.60" x2="307.70" y2="538.20" stroke="#2b67a2" stroke-width="1.0" />
<rect x="369.90" y="532.60" width="2.00" height="5.60" fill="#0d4a87"/>
<line x1="435.40" y1="532.60" x2="435.40" y2="538.20" stroke="#2b67a2" stroke-width="1.0" />
<line x1="448.30" y1="532.80" x2="448.30" y2="538.20" stroke="#0d4a87" stroke-width="1.1" />
<rect x="448.10" y="533.80" width="15.40" height="3.40" fill="#0d4a87"/>
<text x="307.80" y="531.14" font-size="8.0" fill="#262626" stroke="#262626" stroke-width="0.08" text-anchor="middle">1</text>
<text x="371.00" y="531.14" font-size="8.0" fill="#262626" stroke="#262626" stroke-width="0.08" text-anchor="middle">2</text>
<text x="435.20" y="531.14" font-size="8.0" fill="#262626" stroke="#262626" stroke-width="0.08" text-anchor="middle">3</text>
<text x="455.80" y="531.14" font-size="8.0" fill="#262626" stroke="#262626" stroke-width="0.08" text-anchor="middle">4</text>
<text x="34.60" y="551.76" font-size="7.2" fill="#262626" stroke="#262626" stroke-width="0.08" textLength="50.00" lengthAdjust="spacingAndGlyphs">RNA-seq reads</text>
<text x="88.80" y="554.56" font-size="7.2" fill="#d6283e" stroke="#d6283e" stroke-width="0.08" textLength="77.00" lengthAdjust="spacingAndGlyphs">Aberrant <tspan font-style="italic">REL</tspan> transcript</text>
<text x="31.70" y="559.86" font-size="7.2" fill="#262626" stroke="#262626" stroke-width="0.08" text-anchor="end">SV(+)</text>
<text x="7.20" y="569.86" font-size="7.2" fill="#262626" stroke="#262626" stroke-width="0.08" textLength="24.60" lengthAdjust="spacingAndGlyphs">ATL024</text>
<line x1="35.00" y1="556.60" x2="206.00" y2="556.60" stroke="#e0566a" stroke-width="0.9" />
<path d="M208.30,556.60 L205.70,555.30 L205.70,557.90 Z" fill="#e0566a"/>
<text x="179.70" y="551.66" font-size="7.2" fill="#262626" stroke="#262626" stroke-width="0.08" textLength="24.50" lengthAdjust="spacingAndGlyphs">Intron 7</text>
<line x1="208.30" y1="545.20" x2="208.30" y2="550.80" stroke="#222" stroke-width="0.7" />
<path d="M208.30,552.60 L207.00,550.00 L209.60,550.00 Z" fill="#222"/>
<path d="M38.70,569.40V567.88 M41.50,569.40V568.94 M42.20,569.40V568.42 M42.90,569.40V567.87 M43.60,569.40V568.96 M44.30,569.40V568.29 M46.40,569.40V568.51 M47.80,569.40V568.78 M48.50,569.40V568.99 M55.50,569.40V568.74 M56.90,569.40V569.00 M58.30,569.40V568.62 M59.00,569.40V569.00 M59.70,569.40V568.99 M60.40,569.40V568.44 M65.30,569.40V568.09 M67.40,569.40V568.99 M68.10,569.40V568.86 M70.90,569.40V568.40 M73.70,569.40V568.96 M77.90,569.40V567.90 M79.30,569.40V568.99 M82.10,569.40V568.91 M83.50,569.40V567.95 M84.20,569.40V568.95 M84.90,569.40V567.85 M86.30,569.40V568.99 M88.40,569.40V568.52 M91.90,569.40V568.91 M94.70,569.40V567.95 M95.40,569.40V568.45 M97.50,569.40V568.94 M98.20,569.40V568.97 M98.90,569.40V568.86 M105.20,569.40V568.64 M105.90,569.40V568.45 M107.30,569.40V568.77 M108.70,569.40V569.00 M109.40,569.40V567.82 M112.20,569.40V568.39 M116.40,569.40V568.80 M117.80,569.40V568.54 M118.50,569.40V568.33 M119.90,569.40V568.43 M120.60,569.40V568.51 M123.40,569.40V568.36 M124.10,569.40V568.39 M125.50,569.40V568.93 M126.20,569.40V568.24 M126.90,569.40V568.94 M127.60,569.40V568.97 M131.80,569.40V568.96 M135.30,569.40V568.58 M136.70,569.40V567.96 M139.50,569.40V568.99 M140.20,569.40V568.55 M144.40,569.40V569.00 M145.10,569.40V568.66 M146.50,569.40V568.93 M149.30,569.40V568.13 M152.10,569.40V569.00 M152.80,569.40V568.03 M154.20,569.40V568.97 M154.90,569.40V568.77 M158.40,569.40V568.27 M159.10,569.40V568.67 M159.80,569.40V568.04 M160.50,569.40V568.58 M167.50,569.40V568.46 M168.20,569.40V568.48 M170.30,569.40V567.92 M171.00,569.40V569.00 M171.70,569.40V568.98 M174.50,569.40V568.43 M176.60,569.40V567.87 M178.70,569.40V568.81 M183.60,569.40V568.66 M185.00,569.40V568.42 M185.70,569.40V568.53 M187.10,569.40V567.93 M187.80,569.40V568.98 M189.20,569.40V568.99 M190.60,569.40V568.65 M194.10,569.40V568.99" stroke="#8a8a8a" stroke-width="0.6" fill="none"/>
<path d="M219.00,569.40 L219.00,567.13 L219.50,567.13 L219.50,567.39 L220.00,567.39 L220.00,567.05 L220.50,567.05 L220.50,567.27 L221.00,567.27 L221.00,566.35 L221.50,566.35 L221.50,567.76 L222.00,567.76 L222.00,566.28 L222.50,566.28 L222.50,568.09 L223.00,568.09 L223.00,569.40 L223.50,569.40 L223.50,569.40 L224.00,569.40 L224.00,566.96 L224.50,566.96 L224.50,568.10 L225.00,568.10 L225.00,568.08 L225.50,568.08 L225.50,567.87 L226.00,567.87 L226.00,567.40 L226.50,567.40 L226.50,566.16 L227.00,566.16 L227.00,566.88 L227.50,566.88 L227.50,566.81 L228.00,566.81 L228.00,567.80 L228.50,567.80 L228.50,569.40 L229.00,569.40 L229.00,569.40 L229.50,569.40 L229.50,566.66 L230.00,566.66 L230.00,567.89 L230.50,567.89 L230.50,568.07 L231.00,568.07 L231.00,567.55 L231.50,567.55 L231.50,567.58 L232.00,567.58 L232.00,569.40 L232.50,569.40 L232.50,568.10 L233.00,568.10 L233.00,565.88 L233.50,565.88 L233.50,565.59 L234.00,565.59 L234.00,568.07 L234.50,568.07 L234.50,566.40 L235.00,566.40 L235.00,568.06 L235.50,568.06 L235.50,565.66 L236.00,565.66 L236.00,568.03 L236.50,568.03 L236.50,568.05 L237.00,568.05 L237.00,566.33 L237.50,566.33 L237.50,567.13 L238.00,567.13 L238.00,567.94 L238.50,567.94 L238.50,568.02 L239.00,568.02 L239.00,568.03 L239.50,568.03 L239.50,567.91 L240.00,567.91 L240.00,565.63 L240.50,565.63 L240.50,567.76 L241.00,567.76 L241.00,567.92 L241.50,567.92 L241.50,566.11 L242.00,566.11 L242.00,568.05 L242.50,568.05 L242.50,569.40 L243.00,569.40 L243.00,567.84 L243.50,567.84 L243.50,567.71 L244.00,567.71 L244.00,568.07 L244.50,568.07 L244.50,567.06 L245.00,567.06 L245.00,567.01 L245.50,567.01 L245.50,567.42 L246.00,567.42 L246.00,569.40 L246.50,569.40 L246.50,567.09 L247.00,567.09 L247.00,567.96 L247.50,567.96 L247.50,565.89 L248.00,565.89 L248.00,567.85 L248.50,567.85 L248.50,566.54 L249.00,566.54 L249.00,567.94 L249.50,567.94 L249.50,569.40 L250.00,569.40 L250.00,567.00 L250.50,567.00 L250.50,568.04 L251.00,568.04 L251.00,565.66 L251.50,565.66 L251.50,566.67 L252.00,566.67 L252.00,566.23 L252.50,566.23 L252.50,567.78 L253.00,567.78 L253.00,566.61 L253.50,566.61 L253.50,567.89 L254.00,567.89 L254.00,566.12 L254.50,566.12 L254.50,567.80 L255.00,567.80 L255.00,567.93 L255.50,567.93 L255.50,567.82 L256.00,567.82 L256.00,568.08 L256.50,568.08 L256.50,567.62 L257.00,567.62 L257.00,568.02 L257.50,568.02 L257.50,565.96 L258.00,565.96 L258.00,569.40 L258.50,569.40 L258.50,566.71 L259.00,566.71 L259.00,568.01 L259.50,568.01 L259.50,568.10 L260.00,568.10 L260.00,566.68 L260.50,566.68 L260.50,569.40 L261.00,569.40 L261.00,566.89 L261.50,566.89 L261.50,566.58 L262.00,566.58 L262.00,565.50 L262.50,565.50 L262.50,567.17 L263.00,567.17 L263.00,565.93 L263.50,565.93 L263.40,569.40 Z" fill="#767676"/>
<path d="M263.40,569.40 L263.40,569.40 L263.90,569.40 L263.90,569.40 L264.40,569.40 L264.40,569.40 L264.90,569.40 L264.90,569.40 L265.40,569.40 L265.40,568.87 L265.90,568.87 L265.90,569.40 L266.40,569.40 L266.40,569.40 L266.90,569.40 L266.90,568.73 L267.40,568.73 L267.40,569.40 L267.90,569.40 L267.90,569.40 L268.40,569.40 L268.40,569.40 L268.90,569.40 L268.90,569.00 L269.40,569.00 L269.40,569.40 L269.90,569.40 L269.90,568.93 L270.40,568.93 L270.40,569.40 L270.90,569.40 L270.90,569.40 L271.40,569.40 L271.40,569.40 L271.90,569.40 L271.90,568.81 L272.40,568.81 L272.40,569.40 L272.90,569.40 L272.90,568.66 L273.40,568.66 L273.40,568.79 L273.90,568.79 L273.90,568.98 L274.40,568.98 L274.40,569.32 L274.90,569.32 L274.90,569.40 L275.40,569.40 L275.40,568.96 L275.90,568.96 L275.90,569.40 L276.40,569.40 L276.40,569.40 L276.90,569.40 L276.90,568.88 L277.40,568.88 L277.40,569.35 L277.90,569.35 L277.90,569.40 L278.40,569.40 L278.40,569.40 L278.90,569.40 L278.90,568.58 L279.40,568.58 L279.40,568.90 L279.90,568.90 L279.90,569.16 L280.40,569.16 L280.40,569.40 L280.90,569.40 L280.90,569.40 L281.40,569.40 L281.40,569.40 L281.90,569.40 L281.90,569.00 L282.40,569.00 L282.40,569.37 L282.90,569.37 L282.90,568.66 L283.40,568.66 L283.40,569.40 L283.90,569.40 L283.90,569.40 L284.40,569.40 L284.40,569.40 L284.90,569.40 L284.90,569.35 L285.40,569.35 L285.40,569.29 L285.90,569.29 L285.90,569.18 L286.40,569.18 L286.40,569.40 L286.90,569.40 L286.90,569.26 L287.40,569.26 L287.40,569.40 L287.90,569.40 L287.90,569.40 L288.40,569.40 L288.40,569.39 L288.90,569.39 L288.90,568.61 L289.40,568.61 L289.40,568.84 L289.90,568.84 L289.90,569.40 L290.40,569.40 L290.00,569.40 Z" fill="#767676"/>
<path d="M447.00,569.40 L447.00,567.56 L447.50,567.56 L447.50,568.83 L448.00,568.83 L448.00,568.90 L448.50,568.90 L448.50,569.40 L449.00,569.40 L449.00,568.83 L449.50,568.83 L449.50,567.99 L450.00,567.99 L450.00,567.99 L450.50,567.99 L450.50,567.51 L451.00,567.51 L451.00,569.40 L451.50,569.40 L451.50,568.77 L452.00,568.77 L452.00,568.79 L452.50,568.79 L452.50,568.34 L453.00,568.34 L453.00,568.79 L453.50,568.79 L453.50,568.57 L454.00,568.57 L454.00,568.24 L454.50,568.24 L454.50,567.66 L455.00,567.66 L455.00,567.55 L455.50,567.55 L455.50,569.40 L456.00,569.40 L456.00,567.12 L456.50,567.12 L456.50,568.84 L457.00,568.84 L457.00,568.00 L457.50,568.00 L457.50,569.40 L458.00,569.40 L458.00,568.13 L458.50,568.13 L458.50,569.40 L459.00,569.40 L459.00,567.09 L459.50,567.09 L459.50,567.94 L460.00,567.94 L460.00,567.75 L460.50,567.75 L460.50,569.40 L461.00,569.40 L461.00,567.76 L461.50,567.76 L461.50,567.23 L462.00,567.23 L462.00,569.40 L462.50,569.40 L462.50,569.40 Z" fill="#767676"/>
<path d="M369.50,569.40 L369.50,567.88 L370.00,567.88 L370.00,568.18 L370.50,568.18 L370.50,567.25 L371.00,567.25 L371.00,568.38 L371.50,568.38 L371.50,569.40 Z" fill="#767676"/>
<path d="M307.00,569.40V568.70 M307.70,569.40V568.59 M311.20,569.40V568.78 M315.40,569.40V568.99 M319.60,569.40V568.77 M320.30,569.40V568.69 M322.40,569.40V568.99 M328.00,569.40V568.97 M346.90,569.40V569.00 M351.80,569.40V568.84 M353.20,569.40V568.86 M353.90,569.40V568.82 M354.60,569.40V568.99 M356.00,569.40V568.99 M356.70,569.40V568.86 M359.50,569.40V568.97 M361.60,569.40V568.83 M365.80,569.40V568.99 M366.50,569.40V568.50 M370.70,569.40V568.94 M371.40,569.40V568.66 M379.80,569.40V568.97 M381.20,569.40V568.84 M385.40,569.40V568.33 M386.80,569.40V568.98 M387.50,569.40V568.73 M391.70,569.40V568.54 M393.80,569.40V568.79 M400.80,569.40V568.61 M401.50,569.40V568.55 M402.90,569.40V568.98 M403.60,569.40V568.97 M405.00,569.40V568.37 M405.70,569.40V568.91 M408.50,569.40V568.81 M409.20,569.40V568.99 M412.70,569.40V569.00 M414.80,569.40V568.84 M419.00,569.40V568.82 M424.60,569.40V568.92 M430.90,569.40V568.41 M435.10,569.40V569.00 M435.80,569.40V568.96 M442.80,569.40V568.73 M443.50,569.40V568.87 M444.90,569.40V568.77 M447.00,569.40V568.78 M448.40,569.40V568.87 M449.80,569.40V568.51 M450.50,569.40V568.82 M458.20,569.40V568.88 M461.00,569.40V569.00 M464.50,569.40V568.80 M473.60,569.40V568.90 M474.30,569.40V568.89 M475.70,569.40V568.67 M477.80,569.40V568.57 M479.20,569.40V568.89 M482.00,569.40V568.45 M484.80,569.40V568.21 M489.00,569.40V568.95 M493.20,569.40V568.70 M498.10,569.40V568.46 M498.80,569.40V568.34 M500.20,569.40V568.97 M504.40,569.40V568.76 M506.50,569.40V568.55 M509.30,569.40V568.91 M510.70,569.40V568.53 M512.80,569.40V568.81" stroke="#8a8a8a" stroke-width="0.6" fill="none"/>
<path d="M211.30,569.40V568.99 M212.70,569.40V568.85 M214.80,569.40V568.99 M215.50,569.40V568.31 M216.20,569.40V568.95 M216.90,569.40V568.98 M218.30,569.40V568.83" stroke="#8a8a8a" stroke-width="0.6" fill="none"/>
<line x1="35.20" y1="569.40" x2="291.70" y2="569.40" stroke="#8a8a8a" stroke-width="1.0" />
<line x1="292.50" y1="569.40" x2="306.20" y2="569.40" stroke="#8a8a8a" stroke-width="1.0" stroke-dasharray="1,1.3"/>
<line x1="306.20" y1="569.40" x2="513.40" y2="569.40" stroke="#8a8a8a" stroke-width="1.0" />
<line x1="197.30" y1="556.60" x2="197.30" y2="569.40" stroke="#e0566a" stroke-width="0.8" />
<line x1="36.00" y1="569.40" x2="36.00" y2="566.40" stroke="#cf1b3a" stroke-width="1.0" />
<line x1="82.50" y1="569.40" x2="82.50" y2="563.10" stroke="#cf1b3a" stroke-width="1.0" />
<line x1="94.80" y1="569.40" x2="94.80" y2="561.10" stroke="#cf1b3a" stroke-width="1.2" />
<line x1="124.60" y1="569.40" x2="124.60" y2="561.90" stroke="#e0566a" stroke-width="0.8" />
<path d="M203.2,569.4 L203.2,561.1 L205.5,561.1 L205.5,566.9 L208.2,565.4 L208.2,569.4 Z" fill="#c8102e"/>
<path d="M264.2,569.4 L265.5,564.9 L266.8,561.4 L267.8,561.4 L267.8,569.4 Z" fill="#c8102e"/>
<line x1="267.80" y1="556.60" x2="267.80" y2="569.40" stroke="#e0566a" stroke-width="0.8" />
<path d="M264.20,556.70 L266.80,555.40 L266.80,558.00 Z" fill="#d6283e"/>
<line x1="265.50" y1="556.70" x2="267.80" y2="556.70" stroke="#e0566a" stroke-width="0.9" />
<line x1="208.40" y1="556.60" x2="208.40" y2="572.20" stroke="#f2b233" stroke-width="0.7" stroke-dasharray="1.2,0.8"/>
<line x1="268.20" y1="556.60" x2="268.20" y2="572.20" stroke="#f2b233" stroke-width="0.7" stroke-dasharray="1.2,0.8"/>
<line x1="208.40" y1="572.20" x2="268.20" y2="572.20" stroke="#f2b233" stroke-width="0.8" />
<path d="M216.50,572.2 L214.50,571.2 L214.50,573.2 Z" fill="#f2b233"/>
<path d="M225.50,572.2 L223.50,571.2 L223.50,573.2 Z" fill="#f2b233"/>
<path d="M234.50,572.2 L232.50,571.2 L232.50,573.2 Z" fill="#f2b233"/>
<path d="M243.50,572.2 L241.50,571.2 L241.50,573.2 Z" fill="#f2b233"/>
<path d="M252.50,572.2 L250.50,571.2 L250.50,573.2 Z" fill="#f2b233"/>
<path d="M261.50,572.2 L259.50,571.2 L259.50,573.2 Z" fill="#f2b233"/>
<text x="223.70" y="579.86" font-size="7.2" fill="#f0aa2c" stroke="#f0aa2c" stroke-width="0.08" textLength="29.20" lengthAdjust="spacingAndGlyphs">Inversion</text>
<text x="7.20" y="603.66" font-size="7.2" fill="#262626" stroke="#262626" stroke-width="0.08" textLength="24.60" lengthAdjust="spacingAndGlyphs">ATL479</text>
<line x1="35.00" y1="590.60" x2="205.00" y2="590.60" stroke="#e0566a" stroke-width="0.9" />
<path d="M207.30,590.60 L204.70,589.30 L204.70,591.90 Z" fill="#e0566a"/>
<line x1="476.90" y1="590.60" x2="510.50" y2="590.60" stroke="#d6283e" stroke-width="0.9" />
<path d="M513.00,590.60 L510.40,589.30 L510.40,591.90 Z" fill="#d6283e"/>
<text x="179.20" y="587.26" font-size="7.2" fill="#262626" stroke="#262626" stroke-width="0.08" textLength="24.50" lengthAdjust="spacingAndGlyphs">Intron 7</text>
<line x1="207.40" y1="580.80" x2="207.40" y2="586.60" stroke="#222" stroke-width="0.7" />
<path d="M207.40,588.40 L206.10,585.80 L208.70,585.80 Z" fill="#222"/>
<path d="M38.00,604.10V603.57 M38.70,604.10V603.60 M44.30,604.10V603.31 M46.40,604.10V603.12 M47.10,604.10V603.59 M47.80,604.10V603.61 M48.50,604.10V603.02 M49.90,604.10V603.30 M50.60,604.10V603.20 M54.80,604.10V603.69 M58.30,604.10V603.50 M61.10,604.10V603.49 M63.90,604.10V603.28 M64.60,604.10V603.12 M65.30,604.10V603.66 M70.20,604.10V603.53 M73.70,604.10V603.06 M75.10,604.10V603.64 M81.40,604.10V602.90 M82.10,604.10V603.56 M84.20,604.10V603.70 M87.00,604.10V603.59 M88.40,604.10V603.27 M89.10,604.10V603.66 M90.50,604.10V602.53 M93.30,604.10V602.60 M94.00,604.10V602.71 M97.50,604.10V603.55 M98.90,604.10V602.94 M100.30,604.10V603.69 M102.40,604.10V603.36 M105.90,604.10V602.75 M108.00,604.10V603.67 M110.80,604.10V603.69 M112.20,604.10V603.60 M112.90,604.10V603.64 M115.00,604.10V603.59 M115.70,604.10V603.64 M117.10,604.10V603.66 M117.80,604.10V602.82 M118.50,604.10V603.13 M121.30,604.10V603.37 M122.70,604.10V603.53 M123.40,604.10V603.26 M124.80,604.10V603.56 M125.50,604.10V603.40 M127.60,604.10V603.31 M129.00,604.10V603.45 M130.40,604.10V603.46 M133.20,604.10V603.16 M134.60,604.10V603.63 M136.00,604.10V602.70 M136.70,604.10V602.80 M140.90,604.10V603.68 M143.70,604.10V603.19 M147.90,604.10V602.61 M149.30,604.10V603.67 M156.30,604.10V603.69 M159.80,604.10V603.21 M161.90,604.10V603.70 M163.30,604.10V603.58 M167.50,604.10V603.51 M168.20,604.10V602.53 M169.60,604.10V602.83 M171.70,604.10V603.58 M172.40,604.10V603.20 M173.10,604.10V602.51 M176.60,604.10V603.15 M179.40,604.10V603.70 M180.10,604.10V602.51 M180.80,604.10V603.57 M181.50,604.10V603.52 M182.20,604.10V603.41 M182.90,604.10V603.69 M183.60,604.10V602.66 M185.00,604.10V603.59 M185.70,604.10V603.41 M188.50,604.10V603.29 M189.20,604.10V603.48 M189.90,604.10V603.54 M190.60,604.10V603.11 M192.70,604.10V603.63 M194.80,604.10V603.23" stroke="#8a8a8a" stroke-width="0.6" fill="none"/>
<path d="M219.00,604.10 L219.00,598.89 L219.50,598.89 L219.50,600.94 L220.00,600.94 L220.00,600.25 L220.50,600.25 L220.50,597.95 L221.00,597.95 L221.00,599.20 L221.50,599.20 L221.50,598.87 L222.00,598.87 L222.00,599.99 L222.50,599.99 L222.50,597.30 L223.00,597.30 L223.00,597.90 L223.50,597.90 L223.50,598.72 L224.00,598.72 L224.00,600.13 L224.50,600.13 L224.50,601.09 L225.00,601.09 L225.00,597.23 L225.50,597.23 L225.50,601.02 L226.00,601.02 L226.00,604.10 L226.50,604.10 L226.50,600.99 L227.00,600.99 L227.00,600.95 L227.50,600.95 L227.50,599.10 L228.00,599.10 L228.00,598.66 L228.50,598.66 L228.50,600.88 L229.00,600.88 L229.00,600.15 L229.50,600.15 L229.50,599.23 L230.00,599.23 L230.00,600.21 L230.50,600.21 L230.50,598.49 L231.00,598.49 L231.00,604.10 L231.50,604.10 L231.50,604.10 L232.00,604.10 L232.00,600.32 L232.50,600.32 L232.50,598.70 L233.00,598.70 L233.00,600.99 L233.50,600.99 L233.50,600.30 L234.00,600.30 L234.00,597.95 L234.50,597.95 L234.50,601.09 L235.00,601.09 L235.00,600.03 L235.50,600.03 L235.50,600.75 L236.00,600.75 L236.00,600.20 L236.50,600.20 L236.50,601.01 L237.00,601.01 L237.00,600.86 L237.50,600.86 L237.50,601.08 L238.00,601.08 L238.00,600.37 L238.50,600.37 L238.50,601.07 L239.00,601.07 L239.00,600.79 L239.50,600.79 L239.50,599.82 L240.00,599.82 L240.00,599.80 L240.50,599.80 L240.50,600.88 L241.00,600.88 L241.00,600.29 L241.50,600.29 L241.50,598.35 L242.00,598.35 L242.00,601.10 L242.50,601.10 L242.50,598.21 L243.00,598.21 L243.00,600.70 L243.50,600.70 L243.50,601.08 L244.00,601.08 L244.00,596.72 L244.50,596.72 L244.50,604.10 L245.00,604.10 L245.00,601.09 L245.50,601.09 L245.50,598.10 L246.00,598.10 L246.00,599.00 L246.50,599.00 L246.50,599.58 L247.00,599.58 L247.00,599.06 L247.50,599.06 L247.50,597.00 L248.00,597.00 L248.00,600.90 L248.50,600.90 L248.50,597.53 L249.00,597.53 L249.00,597.02 L249.50,597.02 L249.50,598.67 L250.00,598.67 L250.00,600.77 L250.50,600.77 L250.50,600.66 L251.00,600.66 L251.00,598.68 L251.50,598.68 L251.50,597.43 L252.00,597.43 L252.00,600.70 L252.50,600.70 L252.50,596.76 L253.00,596.76 L253.00,599.08 L253.50,599.08 L253.50,596.89 L254.00,596.89 L254.00,600.08 L254.50,600.08 L254.50,597.33 L255.00,597.33 L255.00,599.32 L255.50,599.32 L255.50,600.28 L256.00,600.28 L256.00,599.40 L256.50,599.40 L256.50,598.59 L257.00,598.59 L257.00,598.04 L257.50,598.04 L257.50,597.26 L258.00,597.26 L258.00,598.09 L258.50,598.09 L258.50,601.01 L259.00,601.01 L259.00,600.48 L259.50,600.48 L259.50,598.71 L260.00,598.71 L260.00,599.09 L260.50,599.09 L260.50,599.55 L261.00,599.55 L261.00,600.18 L261.50,600.18 L261.50,600.12 L262.00,600.12 L262.00,598.73 L262.50,598.73 L262.50,601.02 L263.00,601.02 L263.00,598.67 L263.50,598.67 L263.40,604.10 Z" fill="#767676"/>
<path d="M263.40,604.10 L263.40,604.10 L263.90,604.10 L263.90,604.10 L264.40,604.10 L264.40,604.10 L264.90,604.10 L264.90,603.90 L265.40,603.90 L265.40,603.52 L265.90,603.52 L265.90,603.15 L266.40,603.15 L266.40,603.77 L266.90,603.77 L266.90,602.54 L267.40,602.54 L267.40,603.64 L267.90,603.64 L267.90,603.80 L268.40,603.80 L268.40,603.79 L268.90,603.79 L268.90,604.10 L269.40,604.10 L269.40,603.09 L269.90,603.09 L269.90,603.49 L270.40,603.49 L270.40,604.10 L270.90,604.10 L270.90,604.10 L271.40,604.10 L271.40,603.50 L271.90,603.50 L271.90,604.10 L272.40,604.10 L272.40,604.10 L272.90,604.10 L272.90,603.38 L273.40,603.38 L273.40,604.10 L273.90,604.10 L273.90,603.13 L274.40,603.13 L274.40,604.10 L274.90,604.10 L274.90,604.10 L275.40,604.10 L275.40,603.12 L275.90,603.12 L275.90,603.02 L276.40,603.02 L276.40,603.44 L276.90,603.44 L276.90,603.70 L277.40,603.70 L277.40,603.78 L277.90,603.78 L277.90,603.76 L278.40,603.76 L278.40,602.87 L278.90,602.87 L278.90,602.56 L279.40,602.56 L279.40,603.60 L279.90,603.60 L279.90,604.10 L280.40,604.10 L280.40,604.10 L280.90,604.10 L280.90,603.86 L281.40,603.86 L281.40,604.10 L281.90,604.10 L281.90,604.10 L282.40,604.10 L282.40,604.10 L282.90,604.10 L282.90,604.10 L283.40,604.10 L283.40,603.24 L283.90,603.24 L283.90,603.57 L284.40,603.57 L284.40,603.60 L284.90,603.60 L284.90,602.86 L285.40,602.86 L285.40,603.80 L285.90,603.80 L285.90,602.47 L286.40,602.47 L286.40,603.89 L286.90,603.89 L286.90,604.10 L287.40,604.10 L287.40,604.10 L287.90,604.10 L287.90,604.10 L288.40,604.10 L288.40,603.01 L288.90,603.01 L288.90,603.85 L289.40,603.85 L289.40,604.10 L289.90,604.10 L289.90,604.10 L290.40,604.10 L290.40,602.69 L290.90,602.69 L290.90,603.70 L291.40,603.70 L291.00,604.10 Z" fill="#767676"/>
<path d="M369.80,604.10 L369.80,599.78 L370.30,599.78 L370.30,596.42 L370.80,596.42 L370.80,599.71 L371.30,599.71 L371.30,599.20 L371.80,599.20 L371.80,597.32 L372.30,597.32 L372.30,596.68 L372.80,596.68 L372.80,598.44 L373.30,598.44 L372.90,604.10 Z" fill="#767676"/>
<path d="M447.10,604.10 L447.10,600.43 L447.60,600.43 L447.60,604.10 L448.10,604.10 L448.10,600.52 L448.60,600.52 L448.60,600.53 L449.10,600.53 L449.10,601.59 L449.60,601.59 L449.60,600.06 L450.10,600.06 L450.10,598.66 L450.60,598.66 L450.60,599.15 L451.10,599.15 L451.10,598.43 L451.60,598.43 L451.60,601.54 L452.10,601.54 L452.10,600.67 L452.60,600.67 L452.60,599.26 L453.10,599.26 L453.10,602.56 L453.60,602.56 L453.60,602.53 L454.10,602.53 L454.10,602.60 L454.60,602.60 L454.60,602.49 L455.10,602.49 L455.10,600.63 L455.60,600.63 L455.60,604.10 L456.10,604.10 L456.10,604.10 L456.60,604.10 L456.60,598.48 L457.10,598.48 L457.10,602.24 L457.60,602.24 L457.60,604.10 L458.10,604.10 L458.10,602.29 L458.60,602.29 L458.60,601.56 L459.10,601.56 L459.10,601.97 L459.60,601.97 L459.60,602.53 L460.10,602.53 L460.10,598.46 L460.60,598.46 L460.60,604.10 L461.10,604.10 L461.10,598.60 L461.60,598.60 L461.60,602.02 L462.10,602.02 L462.10,604.10 L462.60,604.10 L462.60,600.33 L463.10,600.33 L463.10,604.10 Z" fill="#767676"/>
<path d="M463.00,604.10 L463.00,604.02 L463.50,604.02 L463.50,604.10 L464.00,604.10 L464.00,604.10 L464.50,604.10 L464.50,604.10 L465.00,604.10 L465.00,604.10 L465.50,604.10 L465.50,603.91 L466.00,603.91 L466.00,604.10 L466.50,604.10 L466.50,604.10 L467.00,604.10 L467.00,604.10 L467.50,604.10 L467.50,603.65 L468.00,603.65 L468.00,604.10 L468.50,604.10 L468.50,604.02 L469.00,604.02 L469.00,603.67 L469.50,603.67 L469.50,603.75 L470.00,603.75 L470.00,604.10 L470.50,604.10 L470.50,604.10 L471.00,604.10 L471.00,603.87 L471.50,603.87 L471.50,603.50 L472.00,603.50 L472.00,604.10 L472.50,604.10 L472.50,603.74 L473.00,603.74 L473.00,604.10 L473.50,604.10 L473.50,604.10 L474.00,604.10 L474.00,603.96 L474.50,603.96 L474.50,603.10 L475.00,603.10 L475.00,604.10 Z" fill="#767676"/>
<path d="M447.2,604.1 L447.2,595.1 L448.2,595.1 L448.2,604.1 Z" fill="#767676"/>
<path d="M309.10,604.10V603.33 M311.90,604.10V603.48 M312.60,604.10V603.50 M316.80,604.10V603.53 M318.90,604.10V603.65 M322.40,604.10V603.05 M324.50,604.10V603.65 M325.20,604.10V603.03 M325.90,604.10V603.69 M326.60,604.10V603.20 M327.30,604.10V602.93 M329.40,604.10V603.63 M331.50,604.10V603.60 M332.20,604.10V603.67 M335.70,604.10V603.45 M339.20,604.10V602.97 M342.00,604.10V603.02 M342.70,604.10V603.10 M346.90,604.10V603.67 M348.30,604.10V603.70 M349.00,604.10V603.60 M351.80,604.10V603.69 M353.20,604.10V603.70 M353.90,604.10V603.36 M356.00,604.10V603.67 M358.10,604.10V603.53 M358.80,604.10V603.47 M361.60,604.10V603.35 M363.70,604.10V603.54 M365.10,604.10V603.45 M365.80,604.10V603.56 M374.20,604.10V603.67 M388.20,604.10V603.42 M393.10,604.10V603.00 M395.20,604.10V603.67 M395.90,604.10V603.03 M400.10,604.10V602.96 M400.80,604.10V602.90 M402.20,604.10V603.63 M404.30,604.10V603.70 M405.00,604.10V603.44 M407.10,604.10V603.64 M425.30,604.10V603.39 M426.00,604.10V603.54 M430.90,604.10V603.25 M434.40,604.10V603.01 M435.80,604.10V603.70 M436.50,604.10V603.43 M437.90,604.10V602.98 M438.60,604.10V603.14 M443.50,604.10V603.64 M444.20,604.10V603.59 M446.30,604.10V603.61 M449.80,604.10V603.37 M451.20,604.10V603.68 M451.90,604.10V603.40 M458.20,604.10V603.61 M460.30,604.10V603.51 M461.00,604.10V603.70 M466.60,604.10V603.23 M467.30,604.10V603.08 M470.10,604.10V603.69 M471.50,604.10V603.04 M472.20,604.10V603.66 M473.60,604.10V603.11" stroke="#8a8a8a" stroke-width="0.6" fill="none"/>
<line x1="211.60" y1="604.10" x2="211.60" y2="601.10" stroke="#767676" stroke-width="0.7" />
<line x1="214.20" y1="604.10" x2="214.20" y2="601.60" stroke="#767676" stroke-width="0.7" />
<line x1="35.20" y1="604.10" x2="291.70" y2="604.10" stroke="#8a8a8a" stroke-width="1.0" />
<line x1="292.50" y1="604.10" x2="306.20" y2="604.10" stroke="#8a8a8a" stroke-width="1.0" stroke-dasharray="1,1.3"/>
<line x1="306.20" y1="604.10" x2="513.40" y2="604.10" stroke="#8a8a8a" stroke-width="1.0" />
<path d="M477.30,604.10 L477.30,601.89 L477.70,601.89 L477.70,602.50 L478.10,602.50 L478.00,602.56 L478.40,602.56 L478.40,602.31 L478.80,602.31 L478.80,600.65 L479.20,600.65 L479.20,602.21 L479.60,602.21 L479.60,601.72 L480.00,601.72 L480.00,600.64 L480.40,600.64 L480.40,601.07 L480.80,601.07 L480.80,599.57 L481.20,599.57 L481.00,601.14 L481.40,601.14 L481.40,600.77 L481.80,600.77 L481.80,599.15 L482.20,599.15 L482.20,600.77 L482.60,600.77 L482.60,595.62 L483.00,595.62 L483.00,598.67 L483.40,598.67 L483.40,598.80 L483.80,598.80 L483.80,596.98 L484.20,596.98 L484.20,600.86 L484.60,600.86 L484.60,597.80 L485.00,597.80 L485.00,597.00 L485.40,597.00 L485.40,599.74 L485.80,599.74 L485.80,595.19 L486.20,595.19 L486.00,597.89 L486.40,597.89 L486.40,598.25 L486.80,598.25 L486.80,601.40 L487.20,601.40 L487.00,602.33 L487.40,602.33 L487.40,602.51 L487.80,602.51 L487.80,603.12 L488.20,603.12 L488.20,602.42 L488.60,602.42 L488.60,599.66 L489.00,599.66 L489.00,600.98 L489.40,600.98 L489.40,600.47 L489.80,600.47 L489.80,597.29 L490.20,597.29 L490.00,598.47 L490.40,598.47 L490.40,594.02 L490.80,594.02 L490.80,597.61 L491.20,597.61 L491.20,598.01 L491.60,598.01 L491.50,593.30 L491.90,593.30 L491.90,598.78 L492.30,598.78 L492.30,593.76 L492.70,593.76 L492.50,596.30 L492.90,596.30 L492.90,593.30 L493.30,593.30 L493.30,593.30 L493.70,593.30 L493.70,593.56 L494.10,593.56 L494.00,599.97 L494.40,599.97 L494.40,600.86 L494.80,600.86 L494.80,598.42 L495.20,598.42 L495.00,597.18 L495.40,597.18 L495.40,602.01 L495.80,602.01 L495.80,601.00 L496.20,601.00 L496.00,602.59 L496.40,602.59 L496.40,601.48 L496.80,601.48 L496.80,602.55 L497.20,602.55 L497.00,600.92 L497.40,600.92 L497.40,598.62 L497.80,598.62 L497.80,599.83 L498.20,599.83 L498.20,593.34 L498.60,593.34 L498.50,599.90 L498.90,599.90 L498.90,599.52 L499.30,599.52 L499.30,600.55 L499.70,600.55 L499.50,600.56 L499.90,600.56 L499.90,601.47 L500.30,601.47 L500.00,602.86 L500.40,602.86 L500.40,602.25 L500.80,602.25 L500.80,601.84 L501.20,601.84 L501.20,603.26 L501.60,603.26 L501.60,601.94 L502.00,601.94 L502.00,602.42 L502.40,602.42 L502.40,602.16 L502.80,602.16 L502.80,602.41 L503.20,602.41 L503.20,602.77 L503.60,602.77 L503.60,603.33 L504.00,603.33 L504.00,603.24 L504.40,603.24 L504.40,602.94 L504.80,602.94 L504.80,602.69 L505.20,602.69 L505.00,602.66 L505.40,602.66 L505.40,602.61 L505.80,602.61 L505.80,601.85 L506.20,601.85 L506.00,601.45 L506.40,601.45 L506.40,600.84 L506.80,600.84 L506.80,600.14 L507.20,600.14 L507.20,602.37 L507.60,602.37 L507.60,599.11 L508.00,599.11 L508.00,601.61 L508.40,601.61 L508.40,601.96 L508.80,601.96 L508.80,600.52 L509.20,600.52 L509.20,598.37 L509.60,598.37 L509.50,601.59 L509.90,601.59 L509.90,600.87 L510.30,600.87 L510.30,600.32 L510.70,600.32 L510.50,598.55 L510.90,598.55 L510.90,601.90 L511.30,601.90 L511.30,604.10 Z" fill="#c8102e"/>
<line x1="476.90" y1="590.60" x2="476.90" y2="604.10" stroke="#d6283e" stroke-width="0.8" />
<line x1="435.40" y1="604.10" x2="435.40" y2="595.80" stroke="#767676" stroke-width="0.8" />
<line x1="307.70" y1="604.10" x2="307.70" y2="598.60" stroke="#767676" stroke-width="0.8" />
<line x1="197.30" y1="590.60" x2="197.30" y2="604.10" stroke="#e0566a" stroke-width="0.8" />
<line x1="36.00" y1="604.10" x2="36.00" y2="597.10" stroke="#cf1b3a" stroke-width="1.0" />
<line x1="82.30" y1="604.10" x2="82.30" y2="594.70" stroke="#cf1b3a" stroke-width="1.0" />
<line x1="94.70" y1="604.10" x2="94.70" y2="595.70" stroke="#cf1b3a" stroke-width="1.2" />
<line x1="124.80" y1="604.10" x2="124.80" y2="593.10" stroke="#e0566a" stroke-width="0.8" />
<path d="M203.3,604.1 L203.3,593.6 L205.3,593.6 L205.5,601.1 L207.3,602.1 L207.3,604.1 Z" fill="#c8102e"/>
<line x1="207.50" y1="590.60" x2="207.50" y2="607.60" stroke="#2f6ea6" stroke-width="0.7" stroke-dasharray="1,1"/>
<line x1="207.50" y1="607.60" x2="476.90" y2="607.60" stroke="#2f6ea6" stroke-width="0.7" stroke-dasharray="1,1"/>
<line x1="476.90" y1="604.10" x2="476.90" y2="607.60" stroke="#2f6ea6" stroke-width="0.7" stroke-dasharray="1,1"/>
<path d="M213.00,607.6 L211.00,606.6 L211.00,608.6 Z" fill="#2f6ea6"/>
<path d="M223.55,607.6 L221.55,606.6 L221.55,608.6 Z" fill="#2f6ea6"/>
<path d="M234.10,607.6 L232.10,606.6 L232.10,608.6 Z" fill="#2f6ea6"/>
<path d="M244.65,607.6 L242.65,606.6 L242.65,608.6 Z" fill="#2f6ea6"/>
<path d="M255.20,607.6 L253.20,606.6 L253.20,608.6 Z" fill="#2f6ea6"/>
<path d="M265.75,607.6 L263.75,606.6 L263.75,608.6 Z" fill="#2f6ea6"/>
<path d="M276.30,607.6 L274.30,606.6 L274.30,608.6 Z" fill="#2f6ea6"/>
<path d="M286.85,607.6 L284.85,606.6 L284.85,608.6 Z" fill="#2f6ea6"/>
<path d="M297.40,607.6 L295.40,606.6 L295.40,608.6 Z" fill="#2f6ea6"/>
<path d="M307.95,607.6 L305.95,606.6 L305.95,608.6 Z" fill="#2f6ea6"/>
<path d="M318.50,607.6 L316.50,606.6 L316.50,608.6 Z" fill="#2f6ea6"/>
<path d="M329.05,607.6 L327.05,606.6 L327.05,608.6 Z" fill="#2f6ea6"/>
<path d="M339.60,607.6 L337.60,606.6 L337.60,608.6 Z" fill="#2f6ea6"/>
<path d="M350.15,607.6 L348.15,606.6 L348.15,608.6 Z" fill="#2f6ea6"/>
<path d="M360.70,607.6 L358.70,606.6 L358.70,608.6 Z" fill="#2f6ea6"/>
<path d="M371.25,607.6 L369.25,606.6 L369.25,608.6 Z" fill="#2f6ea6"/>
<path d="M381.80,607.6 L379.80,606.6 L379.80,608.6 Z" fill="#2f6ea6"/>
<path d="M392.35,607.6 L390.35,606.6 L390.35,608.6 Z" fill="#2f6ea6"/>
<path d="M402.90,607.6 L400.90,606.6 L400.90,608.6 Z" fill="#2f6ea6"/>
<path d="M413.45,607.6 L411.45,606.6 L411.45,608.6 Z" fill="#2f6ea6"/>
<path d="M424.00,607.6 L422.00,606.6 L422.00,608.6 Z" fill="#2f6ea6"/>
<path d="M434.55,607.6 L432.55,606.6 L432.55,608.6 Z" fill="#2f6ea6"/>
<path d="M445.10,607.6 L443.10,606.6 L443.10,608.6 Z" fill="#2f6ea6"/>
<path d="M455.65,607.6 L453.65,606.6 L453.65,608.6 Z" fill="#2f6ea6"/>
<path d="M466.20,607.6 L464.20,606.6 L464.20,608.6 Z" fill="#2f6ea6"/>
<text x="330.70" y="615.86" font-size="7.2" fill="#2f6ea6" stroke="#2f6ea6" stroke-width="0.08" textLength="28.80" lengthAdjust="spacingAndGlyphs">Deletion</text>
<text x="32.00" y="624.56" font-size="7.2" fill="#262626" stroke="#262626" stroke-width="0.08" text-anchor="end">SV(–)</text>
<text x="7.20" y="633.06" font-size="7.2" fill="#262626" stroke="#262626" stroke-width="0.08" textLength="24.60" lengthAdjust="spacingAndGlyphs">ATL480</text>
<path d="M40.80,633.10V632.16 M41.50,633.10V631.57 M42.20,633.10V631.59 M42.90,633.10V632.46 M45.70,633.10V632.22 M47.10,633.10V631.90 M49.20,633.10V632.05 M52.00,633.10V631.63 M53.40,633.10V631.58 M54.10,633.10V631.64 M55.50,633.10V631.91 M56.20,633.10V632.69 M56.90,633.10V632.69 M58.30,633.10V631.69 M59.70,633.10V632.70 M61.10,633.10V631.60 M63.90,633.10V631.72 M64.60,633.10V632.67 M68.10,633.10V632.44 M68.80,633.10V632.27 M69.50,633.10V632.59 M72.30,633.10V631.62 M75.80,633.10V632.67 M77.20,633.10V632.67 M77.90,633.10V632.12 M78.60,633.10V631.80 M81.40,633.10V631.92 M82.10,633.10V632.49 M87.00,633.10V632.21 M96.10,633.10V632.63 M96.80,633.10V632.25 M98.90,633.10V631.96 M100.30,633.10V632.65 M101.70,633.10V632.57 M102.40,633.10V632.70 M103.80,633.10V632.62 M104.50,633.10V632.61 M105.90,633.10V631.61 M109.40,633.10V632.43 M110.10,633.10V632.11 M110.80,633.10V631.79 M114.30,633.10V632.53 M117.10,633.10V632.69 M119.20,633.10V631.95 M119.90,633.10V632.57 M122.00,633.10V632.19 M123.40,633.10V631.66 M126.90,633.10V632.42 M129.00,633.10V631.55 M129.70,633.10V632.48 M130.40,633.10V632.65 M134.60,633.10V632.69 M137.40,633.10V632.69 M140.20,633.10V631.79 M140.90,633.10V631.80 M142.30,633.10V632.67 M145.80,633.10V632.53 M146.50,633.10V632.68 M150.70,633.10V632.70 M152.10,633.10V632.02 M153.50,633.10V632.59 M154.20,633.10V632.66 M159.10,633.10V632.63 M159.80,633.10V632.59 M161.90,633.10V632.60 M164.00,633.10V632.47 M166.10,633.10V632.67 M168.20,633.10V632.59 M169.60,633.10V632.70 M171.70,633.10V632.69 M172.40,633.10V632.29 M174.50,633.10V632.29 M175.90,633.10V632.62 M178.70,633.10V631.79 M180.80,633.10V631.76 M184.30,633.10V632.70 M187.80,633.10V631.97 M190.60,633.10V632.31 M191.30,633.10V631.83" stroke="#8a8a8a" stroke-width="0.6" fill="none"/>
<path d="M219.20,633.10 L219.20,627.55 L219.70,627.55 L219.70,627.08 L220.20,627.08 L220.20,628.43 L220.70,628.43 L220.70,628.44 L221.20,628.44 L221.20,628.54 L221.70,628.54 L221.70,628.45 L222.20,628.45 L222.20,628.12 L222.70,628.12 L222.70,627.74 L223.20,627.74 L223.20,628.38 L223.70,628.38 L223.70,627.02 L224.20,627.02 L224.20,627.21 L224.70,627.21 L224.70,627.39 L225.20,627.39 L225.20,633.10 L225.70,633.10 L225.50,633.10 Z" fill="#767676"/>
<path d="M226.00,633.10 L226.00,627.70 L226.50,627.70 L226.50,626.92 L227.00,626.92 L227.00,626.59 L227.50,626.59 L227.50,627.38 L228.00,627.38 L228.00,627.54 L228.50,627.54 L228.50,625.25 L229.00,625.25 L229.00,624.20 L229.50,624.20 L229.50,626.63 L230.00,626.63 L230.00,627.97 L230.50,627.97 L230.50,627.10 L231.00,627.10 L231.00,627.83 L231.50,627.83 L231.20,633.10 Z" fill="#767676"/>
<path d="M231.60,633.10 L231.60,629.41 L232.10,629.41 L232.10,628.75 L232.60,628.75 L232.60,629.54 L233.10,629.54 L233.10,629.43 L233.60,629.43 L233.60,629.48 L234.10,629.48 L234.10,629.58 L234.60,629.58 L234.60,627.75 L235.10,627.75 L235.10,628.46 L235.60,628.46 L235.60,633.10 L236.10,633.10 L236.10,629.53 L236.60,629.53 L236.60,628.12 L237.10,628.12 L237.00,633.10 Z" fill="#767676"/>
<path d="M237.50,633.10 L237.50,626.42 L238.00,626.42 L238.00,623.45 L238.50,623.45 L238.50,623.84 L239.00,623.84 L239.00,623.54 L239.50,623.54 L239.50,624.33 L240.00,624.33 L240.00,622.79 L240.50,622.79 L240.50,624.30 L241.00,624.30 L241.00,624.84 L241.50,624.84 L241.50,624.96 L242.00,624.96 L242.00,624.27 L242.50,624.27 L242.50,626.10 L243.00,626.10 L243.00,624.50 L243.50,624.50 L243.50,626.28 L244.00,626.28 L244.00,624.71 L244.50,624.71 L244.50,625.18 L245.00,625.18 L245.00,625.61 L245.50,625.61 L245.50,626.53 L246.00,626.53 L246.00,633.10 Z" fill="#767676"/>
<path d="M246.00,633.10 L246.00,622.62 L246.50,622.62 L246.50,626.51 L247.00,626.51 L247.00,625.23 L247.50,625.23 L247.50,625.85 L248.00,625.85 L248.00,623.79 L248.50,623.79 L248.50,626.40 L249.00,626.40 L249.00,622.83 L249.50,622.83 L249.50,625.83 L250.00,625.83 L250.00,626.53 L250.50,626.53 L250.50,625.71 L251.00,625.71 L251.00,633.10 L251.50,633.10 L251.50,626.65 L252.00,626.65 L252.00,623.69 L252.50,623.69 L252.50,625.28 L253.00,625.28 L253.00,626.69 L253.50,626.69 L253.50,633.10 Z" fill="#767676"/>
<path d="M254.00,633.10 L254.00,629.43 L254.50,629.43 L254.50,629.59 L255.00,629.59 L255.00,629.56 L255.50,629.56 L255.50,628.55 L256.00,628.55 L256.00,627.98 L256.50,627.98 L256.50,628.88 L257.00,628.88 L257.00,629.21 L257.50,629.21 L257.50,628.99 L258.00,628.99 L258.00,633.10 Z" fill="#767676"/>
<path d="M258.00,633.10 L258.00,626.65 L258.50,626.65 L258.50,626.80 L259.00,626.80 L259.00,628.27 L259.50,628.27 L259.50,628.59 L260.00,628.59 L260.00,628.16 L260.50,628.16 L260.50,626.60 L261.00,626.60 L261.00,633.10 L261.50,633.10 L261.50,627.74 L262.00,627.74 L262.00,626.88 L262.50,626.88 L262.50,626.54 L263.00,626.54 L263.00,628.53 L263.50,628.53 L263.50,628.37 L264.00,628.37 L264.00,633.10 Z" fill="#767676"/>
<path d="M264.00,633.10 L264.00,633.10 L264.50,633.10 L264.50,632.76 L265.00,632.76 L265.00,632.90 L265.50,632.90 L265.50,633.10 L266.00,633.10 L266.00,632.42 L266.50,632.42 L266.50,633.10 L267.00,633.10 L267.00,633.10 L267.50,633.10 L267.50,633.10 L268.00,633.10 L268.00,633.10 L268.50,633.10 L268.50,632.63 L269.00,632.63 L269.00,633.10 L269.50,633.10 L269.50,633.10 L270.00,633.10 L270.00,633.10 L270.50,633.10 L270.50,633.06 L271.00,633.06 L271.00,633.10 L271.50,633.10 L271.50,633.10 L272.00,633.10 L272.00,633.10 L272.50,633.10 L272.50,631.98 L273.00,631.98 L273.00,633.08 L273.50,633.08 L273.50,633.10 L274.00,633.10 L274.00,633.10 L274.50,633.10 L274.50,632.42 L275.00,632.42 L275.00,633.10 L275.50,633.10 L275.50,633.10 L276.00,633.10 L276.00,633.10 L276.50,633.10 L276.50,632.56 L277.00,632.56 L277.00,633.10 L277.50,633.10 L277.50,633.10 L278.00,633.10 L278.00,632.34 L278.50,632.34 L278.50,632.94 L279.00,632.94 L279.00,633.10 L279.50,633.10 L279.50,632.97 L280.00,632.97 L280.00,633.10 L280.50,633.10 L280.50,633.10 L281.00,633.10 L281.00,632.98 L281.50,632.98 L281.50,632.03 L282.00,632.03 L282.00,632.19 L282.50,632.19 L282.50,633.10 L283.00,633.10 L283.00,631.91 L283.50,631.91 L283.50,633.10 L284.00,633.10 L284.00,632.98 L284.50,632.98 L284.50,632.09 L285.00,632.09 L285.00,633.10 L285.50,633.10 L285.50,632.87 L286.00,632.87 L286.00,633.03 L286.50,633.03 L286.50,633.10 L287.00,633.10 L287.00,632.24 L287.50,632.24 L287.50,633.07 L288.00,633.07 L288.00,633.10 L288.50,633.10 L288.50,632.12 L289.00,632.12 L289.00,632.70 L289.50,632.70 L289.50,633.10 L290.00,633.10 L290.00,632.37 L290.50,632.37 L290.50,633.10 L291.00,633.10 L291.00,631.98 L291.50,631.98 L291.50,632.17 L292.00,632.17 L292.00,633.10 Z" fill="#767676"/>
<path d="M369.50,633.10 L369.50,625.13 L370.00,625.13 L370.00,628.07 L370.50,628.07 L370.50,624.59 L371.00,624.59 L371.00,626.92 L371.50,626.92 L371.50,627.74 L372.00,627.74 L372.00,628.10 L372.50,628.10 L372.50,625.59 L373.00,625.59 L372.90,633.10 Z" fill="#767676"/>
<path d="M447.10,633.10 L447.10,631.29 L447.60,631.29 L447.60,629.42 L448.10,629.42 L448.10,628.17 L448.60,628.17 L448.60,631.52 L449.10,631.52 L449.10,633.10 L449.60,633.10 L449.60,633.10 L450.10,633.10 L450.10,628.68 L450.60,628.68 L450.60,629.31 L451.10,629.31 L451.10,629.97 L451.60,629.97 L451.60,631.47 L452.10,631.47 L452.10,629.94 L452.60,629.94 L452.60,629.72 L453.10,629.72 L453.10,630.32 L453.60,630.32 L453.60,628.40 L454.10,628.40 L454.10,628.78 L454.60,628.78 L454.60,630.05 L455.10,630.05 L455.10,628.04 L455.60,628.04 L455.60,627.92 L456.10,627.92 L456.10,629.56 L456.60,629.56 L456.60,633.10 L457.10,633.10 L457.10,630.84 L457.60,630.84 L457.60,630.46 L458.10,630.46 L458.10,628.78 L458.60,628.78 L458.60,627.69 L459.10,627.69 L459.10,630.72 L459.60,630.72 L459.60,629.15 L460.10,629.15 L460.10,631.31 L460.60,631.31 L460.60,631.01 L461.10,631.01 L461.10,627.81 L461.60,627.81 L461.60,628.04 L462.10,628.04 L462.10,631.33 L462.60,631.33 L462.60,633.10 L463.10,633.10 L463.10,633.10 Z" fill="#767676"/>
<path d="M463.00,633.10 L463.00,633.08 L463.50,633.08 L463.50,633.09 L464.00,633.09 L464.00,633.04 L464.50,633.04 L464.50,633.10 L465.00,633.10 L465.00,633.10 L465.50,633.10 L465.50,633.03 L466.00,633.03 L466.00,633.10 L466.50,633.10 L466.50,633.10 L467.00,633.10 L467.00,633.10 L467.50,633.10 L467.50,633.10 L468.00,633.10 L468.00,633.10 L468.50,633.10 L468.50,633.10 L469.00,633.10 L469.00,633.10 L469.50,633.10 L469.50,633.09 L470.00,633.09 L470.00,633.10 L470.50,633.10 L470.50,633.10 L471.00,633.10 L471.00,633.10 L471.50,633.10 L471.50,633.10 L472.00,633.10 L472.00,632.66 L472.50,632.66 L472.50,633.10 L473.00,633.10 L473.00,633.10 L473.50,633.10 L473.50,633.01 L474.00,633.01 L474.00,633.10 L474.50,633.10 L474.50,633.10 L475.00,633.10 L475.00,633.10 L475.50,633.10 L475.50,632.65 L476.00,632.65 L476.00,633.10 Z" fill="#767676"/>
<path d="M309.80,633.10V632.70 M314.00,633.10V632.35 M314.70,633.10V632.66 M315.40,633.10V631.93 M324.50,633.10V632.24 M325.20,633.10V632.63 M325.90,633.10V632.64 M328.70,633.10V632.65 M329.40,633.10V632.52 M332.20,633.10V632.70 M332.90,633.10V631.97 M336.40,633.10V632.40 M337.10,633.10V632.51 M339.90,633.10V632.02 M340.60,633.10V631.95 M342.00,633.10V632.39 M351.10,633.10V632.59 M355.30,633.10V632.10 M359.50,633.10V632.32 M362.30,633.10V632.70 M367.20,633.10V632.00 M374.20,633.10V632.51 M378.40,633.10V632.30 M380.50,633.10V632.30 M388.20,633.10V632.58 M390.30,633.10V632.07 M402.20,633.10V632.66 M403.60,633.10V632.32 M407.10,633.10V632.55 M408.50,633.10V632.60 M410.60,633.10V632.35 M412.00,633.10V632.63 M419.00,633.10V632.69 M420.40,633.10V632.35 M426.70,633.10V632.66 M432.30,633.10V632.54 M433.70,633.10V632.36 M434.40,633.10V632.70 M440.00,633.10V632.57 M449.10,633.10V632.59 M450.50,633.10V632.08 M451.20,633.10V632.03 M456.80,633.10V632.03 M458.90,633.10V632.16 M461.70,633.10V632.44 M465.90,633.10V632.57 M466.60,633.10V632.12 M472.90,633.10V632.62 M479.90,633.10V632.70 M480.60,633.10V632.60 M489.00,633.10V632.29 M498.10,633.10V632.24 M498.80,633.10V632.40 M500.90,633.10V632.31 M502.30,633.10V632.39 M505.10,633.10V632.53 M508.60,633.10V632.63 M512.80,633.10V632.70" stroke="#8a8a8a" stroke-width="0.6" fill="none"/>
<line x1="35.20" y1="633.10" x2="291.70" y2="633.10" stroke="#8a8a8a" stroke-width="1.0" />
<line x1="292.50" y1="633.10" x2="306.20" y2="633.10" stroke="#8a8a8a" stroke-width="1.0" stroke-dasharray="1,1.3"/>
<line x1="306.20" y1="633.10" x2="513.40" y2="633.10" stroke="#8a8a8a" stroke-width="1.0" />
<line x1="36.00" y1="633.10" x2="36.00" y2="630.60" stroke="#767676" stroke-width="0.8" />
<line x1="82.50" y1="633.10" x2="82.50" y2="623.10" stroke="#767676" stroke-width="0.8" />
<line x1="94.50" y1="633.10" x2="94.50" y2="623.10" stroke="#767676" stroke-width="0.8" />
<line x1="124.50" y1="633.10" x2="124.50" y2="628.60" stroke="#767676" stroke-width="0.8" />
<line x1="197.30" y1="633.10" x2="197.30" y2="626.30" stroke="#767676" stroke-width="0.8" />
<line x1="203.30" y1="633.10" x2="203.30" y2="626.80" stroke="#767676" stroke-width="0.8" />
<line x1="203.90" y1="633.10" x2="203.90" y2="627.10" stroke="#767676" stroke-width="0.8" />
<line x1="211.60" y1="633.10" x2="211.60" y2="628.70" stroke="#767676" stroke-width="0.8" />
<line x1="214.20" y1="633.10" x2="214.20" y2="628.70" stroke="#767676" stroke-width="0.8" />
<line x1="435.40" y1="633.10" x2="435.40" y2="622.50" stroke="#767676" stroke-width="0.8" />
<line x1="307.70" y1="633.10" x2="307.70" y2="627.10" stroke="#767676" stroke-width="0.8" />
<path d="M447.2,633.1 L447.2,624.8000000000001 L448.4,624.8000000000001 L448.4,633.1 Z" fill="#767676"/>
<text x="7.20" y="652.56" font-size="7.2" fill="#262626" stroke="#262626" stroke-width="0.08" textLength="24.60" lengthAdjust="spacingAndGlyphs">ATL481</text>
<path d="M42.90,653.10V651.95 M44.30,653.10V651.63 M45.70,653.10V652.02 M47.80,653.10V652.18 M49.90,653.10V652.17 M50.60,653.10V652.37 M51.30,653.10V652.37 M52.00,653.10V652.44 M53.40,653.10V651.78 M57.60,653.10V652.61 M58.30,653.10V652.39 M61.10,653.10V652.53 M63.20,653.10V652.48 M63.90,653.10V652.12 M65.30,653.10V652.31 M66.70,653.10V652.70 M72.30,653.10V652.70 M73.70,653.10V651.90 M77.20,653.10V652.70 M77.90,653.10V652.09 M79.30,653.10V652.65 M82.10,653.10V652.68 M82.80,653.10V651.56 M84.20,653.10V651.91 M86.30,653.10V651.69 M87.00,653.10V652.70 M87.70,653.10V652.70 M90.50,653.10V652.32 M91.90,653.10V651.58 M92.60,653.10V651.92 M93.30,653.10V652.30 M94.00,653.10V651.91 M94.70,653.10V652.52 M96.80,653.10V652.66 M98.90,653.10V652.56 M99.60,653.10V651.59 M100.30,653.10V651.93 M101.00,653.10V652.54 M101.70,653.10V651.72 M103.80,653.10V652.47 M105.20,653.10V652.65 M105.90,653.10V651.80 M106.60,653.10V652.39 M111.50,653.10V652.66 M114.30,653.10V651.97 M124.80,653.10V652.49 M129.70,653.10V651.62 M134.60,653.10V651.69 M136.70,653.10V652.70 M137.40,653.10V652.36 M140.20,653.10V652.03 M140.90,653.10V652.67 M142.30,653.10V652.57 M144.40,653.10V652.68 M145.10,653.10V652.20 M147.20,653.10V652.26 M148.60,653.10V652.53 M150.70,653.10V652.62 M153.50,653.10V651.70 M154.20,653.10V652.28 M154.90,653.10V652.31 M155.60,653.10V652.68 M157.00,653.10V651.97 M158.40,653.10V652.45 M161.20,653.10V652.67 M163.30,653.10V652.56 M165.40,653.10V652.59 M169.60,653.10V652.30 M171.00,653.10V652.40 M171.70,653.10V652.01 M173.10,653.10V652.56 M175.20,653.10V651.95 M175.90,653.10V652.09 M186.40,653.10V652.37 M189.90,653.10V652.68 M191.30,653.10V652.63 M192.70,653.10V651.61 M195.50,653.10V652.66" stroke="#8a8a8a" stroke-width="0.6" fill="none"/>
<path d="M219.20,653.10 L219.20,648.00 L219.70,648.00 L219.70,647.30 L220.20,647.30 L220.20,648.90 L220.70,648.90 L220.70,648.12 L221.20,648.12 L221.20,648.05 L221.70,648.05 L221.70,647.80 L222.20,647.80 L222.20,648.94 L222.70,648.94 L222.70,653.10 L223.20,653.10 L223.20,648.90 L223.70,648.90 L223.70,648.18 L224.20,648.18 L224.20,648.37 L224.70,648.37 L224.70,649.01 L225.20,649.01 L225.20,649.04 L225.70,649.04 L225.50,653.10 Z" fill="#767676"/>
<path d="M226.00,653.10 L226.00,648.55 L226.50,648.55 L226.50,645.23 L227.00,645.23 L227.00,645.16 L227.50,645.16 L227.50,647.10 L228.00,647.10 L228.00,646.75 L228.50,646.75 L228.50,647.18 L229.00,647.18 L229.00,648.41 L229.50,648.41 L229.50,645.81 L230.00,645.81 L230.00,648.38 L230.50,648.38 L230.50,648.34 L231.00,648.34 L231.00,647.52 L231.50,647.52 L231.20,653.10 Z" fill="#767676"/>
<path d="M231.60,653.10 L231.60,648.68 L232.10,648.68 L232.10,649.87 L232.60,649.87 L232.60,648.90 L233.10,648.90 L233.10,649.43 L233.60,649.43 L233.60,649.52 L234.10,649.52 L234.10,649.41 L234.60,649.41 L234.60,649.52 L235.10,649.52 L235.10,649.27 L235.60,649.27 L235.60,649.54 L236.10,649.54 L236.10,648.54 L236.60,648.54 L236.60,653.10 L237.10,653.10 L237.00,653.10 Z" fill="#767676"/>
<path d="M237.50,653.10 L237.50,647.45 L238.00,647.45 L238.00,646.06 L238.50,646.06 L238.50,645.39 L239.00,645.39 L239.00,653.10 L239.50,653.10 L239.50,646.94 L240.00,646.94 L240.00,644.01 L240.50,644.01 L240.50,647.08 L241.00,647.08 L241.00,645.78 L241.50,645.78 L241.50,647.21 L242.00,647.21 L242.00,647.59 L242.50,647.59 L242.50,643.72 L243.00,643.72 L243.00,647.13 L243.50,647.13 L243.50,653.10 L244.00,653.10 L244.00,647.22 L244.50,647.22 L244.50,647.45 L245.00,647.45 L245.00,647.27 L245.50,647.27 L245.50,647.18 L246.00,647.18 L246.00,653.10 Z" fill="#767676"/>
<path d="M246.00,653.10 L246.00,645.69 L246.50,645.69 L246.50,653.10 L247.00,653.10 L247.00,644.77 L247.50,644.77 L247.50,645.92 L248.00,645.92 L248.00,643.53 L248.50,643.53 L248.50,646.18 L249.00,646.18 L249.00,646.78 L249.50,646.78 L249.50,643.40 L250.00,643.40 L250.00,644.69 L250.50,644.69 L250.50,643.73 L251.00,643.73 L251.00,647.18 L251.50,647.18 L251.50,653.10 L252.00,653.10 L252.00,646.88 L252.50,646.88 L252.50,647.51 L253.00,647.51 L253.00,645.19 L253.50,645.19 L253.50,653.10 Z" fill="#767676"/>
<path d="M254.00,653.10 L254.00,649.35 L254.50,649.35 L254.50,648.71 L255.00,648.71 L255.00,647.94 L255.50,647.94 L255.50,649.14 L256.00,649.14 L256.00,649.52 L256.50,649.52 L256.50,649.50 L257.00,649.50 L257.00,649.50 L257.50,649.50 L257.50,649.41 L258.00,649.41 L258.00,653.10 Z" fill="#767676"/>
<path d="M258.00,653.10 L258.00,647.88 L258.50,647.88 L258.50,646.88 L259.00,646.88 L259.00,648.17 L259.50,648.17 L259.50,648.56 L260.00,648.56 L260.00,648.41 L260.50,648.41 L260.50,653.10 L261.00,653.10 L261.00,649.08 L261.50,649.08 L261.50,646.87 L262.00,646.87 L262.00,649.05 L262.50,649.05 L262.50,648.51 L263.00,648.51 L263.00,653.10 L263.50,653.10 L263.50,647.28 L264.00,647.28 L264.00,653.10 Z" fill="#767676"/>
<path d="M264.00,653.10 L264.00,653.10 L264.50,653.10 L264.50,652.29 L265.00,652.29 L265.00,653.06 L265.50,653.06 L265.50,652.61 L266.00,652.61 L266.00,652.79 L266.50,652.79 L266.50,653.10 L267.00,653.10 L267.00,652.69 L267.50,652.69 L267.50,651.96 L268.00,651.96 L268.00,652.48 L268.50,652.48 L268.50,653.10 L269.00,653.10 L269.00,651.91 L269.50,651.91 L269.50,651.92 L270.00,651.92 L270.00,653.10 L270.50,653.10 L270.50,653.10 L271.00,653.10 L271.00,653.10 L271.50,653.10 L271.50,652.80 L272.00,652.80 L272.00,652.03 L272.50,652.03 L272.50,653.06 L273.00,653.06 L273.00,653.10 L273.50,653.10 L273.50,653.10 L274.00,653.10 L274.00,653.10 L274.50,653.10 L274.50,653.10 L275.00,653.10 L275.00,653.10 L275.50,653.10 L275.50,653.10 L276.00,653.10 L276.00,652.10 L276.50,652.10 L276.50,652.80 L277.00,652.80 L277.00,653.10 L277.50,653.10 L277.50,653.10 L278.00,653.10 L278.00,652.48 L278.50,652.48 L278.50,653.10 L279.00,653.10 L279.00,653.02 L279.50,653.02 L279.50,652.17 L280.00,652.17 L280.00,652.86 L280.50,652.86 L280.50,653.10 L281.00,653.10 L281.00,653.01 L281.50,653.01 L281.50,652.98 L282.00,652.98 L282.00,653.10 L282.50,653.10 L282.50,653.08 L283.00,653.08 L283.00,653.10 L283.50,653.10 L283.50,653.10 L284.00,653.10 L284.00,652.48 L284.50,652.48 L284.50,653.10 L285.00,653.10 L285.00,653.10 L285.50,653.10 L285.50,653.10 L286.00,653.10 L286.00,653.01 L286.50,653.01 L286.50,653.10 L287.00,653.10 L287.00,653.10 L287.50,653.10 L287.50,653.10 L288.00,653.10 L288.00,652.88 L288.50,652.88 L288.50,653.10 L289.00,653.10 L289.00,652.59 L289.50,652.59 L289.50,652.36 L290.00,652.36 L290.00,652.73 L290.50,652.73 L290.50,653.10 L291.00,653.10 L291.00,653.04 L291.50,653.04 L291.50,653.10 L292.00,653.10 L292.00,653.10 Z" fill="#767676"/>
<path d="M369.50,653.10 L369.50,650.06 L370.00,650.06 L370.00,649.91 L370.50,649.91 L370.50,651.52 L371.00,651.52 L371.00,650.56 L371.50,650.56 L371.50,650.68 L372.00,650.68 L372.00,649.74 L372.50,649.74 L372.50,650.24 L373.00,650.24 L372.90,653.10 Z" fill="#767676"/>
<path d="M447.10,653.10 L447.10,651.81 L447.60,651.81 L447.60,652.52 L448.10,652.52 L448.10,650.49 L448.60,650.49 L448.60,652.07 L449.10,652.07 L449.10,651.54 L449.60,651.54 L449.60,652.18 L450.10,652.18 L450.10,653.10 L450.60,653.10 L450.60,652.18 L451.10,652.18 L451.10,653.10 L451.60,653.10 L451.60,653.10 L452.10,653.10 L452.10,652.60 L452.60,652.60 L452.60,650.52 L453.10,650.52 L453.10,652.44 L453.60,652.44 L453.60,652.54 L454.10,652.54 L454.10,653.10 L454.60,653.10 L454.60,652.10 L455.10,652.10 L455.10,652.54 L455.60,652.54 L455.60,651.98 L456.10,651.98 L456.10,651.02 L456.60,651.02 L456.60,650.81 L457.10,650.81 L457.10,653.10 L457.60,653.10 L457.60,651.58 L458.10,651.58 L458.10,651.73 L458.60,651.73 L458.60,652.12 L459.10,652.12 L459.10,652.52 L459.60,652.52 L459.60,653.10 L460.10,653.10 L460.10,650.78 L460.60,650.78 L460.60,651.08 L461.10,651.08 L461.10,651.68 L461.60,651.68 L461.60,650.50 L462.10,650.50 L462.10,651.90 L462.60,651.90 L462.60,652.10 L463.10,652.10 L463.10,653.10 Z" fill="#767676"/>
<path d="M463.00,653.10 L463.00,652.70 L463.50,652.70 L463.50,653.10 L464.00,653.10 L464.00,652.43 L464.50,652.43 L464.50,653.01 L465.00,653.01 L465.00,653.10 L465.50,653.10 L465.50,653.10 L466.00,653.10 L466.00,653.10 L466.50,653.10 L466.50,653.10 L467.00,653.10 L467.00,652.89 L467.50,652.89 L467.50,653.09 L468.00,653.09 L468.00,653.03 L468.50,653.03 L468.50,652.84 L469.00,652.84 L469.00,653.10 L469.50,653.10 L469.50,653.10 L470.00,653.10 L470.00,653.10 L470.50,653.10 L470.50,653.10 L471.00,653.10 L471.00,652.35 L471.50,652.35 L471.50,653.10 L472.00,653.10 L472.00,652.52 L472.50,652.52 L472.50,653.10 L473.00,653.10 L473.00,653.10 L473.50,653.10 L473.50,653.10 L474.00,653.10 L474.00,653.10 L474.50,653.10 L474.50,652.38 L475.00,652.38 L475.00,653.10 L475.50,653.10 L475.50,653.10 L476.00,653.10 L476.00,653.10 Z" fill="#767676"/>
<path d="M307.70,653.10V652.37 M312.60,653.10V652.23 M319.60,653.10V652.63 M322.40,653.10V652.25 M325.90,653.10V652.36 M330.80,653.10V652.53 M331.50,653.10V652.70 M332.20,653.10V652.27 M336.40,653.10V652.69 M337.10,653.10V652.57 M341.30,653.10V652.70 M342.00,653.10V652.68 M349.00,653.10V652.00 M350.40,653.10V652.26 M351.10,653.10V652.65 M351.80,653.10V652.70 M356.70,653.10V652.05 M360.20,653.10V652.68 M361.60,653.10V652.45 M365.80,653.10V652.49 M367.90,653.10V652.66 M370.70,653.10V652.21 M372.80,653.10V652.68 M373.50,653.10V652.31 M376.30,653.10V652.40 M377.70,653.10V652.57 M384.70,653.10V652.39 M385.40,653.10V652.53 M391.00,653.10V652.69 M409.90,653.10V652.53 M414.80,653.10V652.23 M415.50,653.10V652.63 M419.00,653.10V652.39 M430.20,653.10V652.13 M438.60,653.10V652.66 M440.70,653.10V652.62 M443.50,653.10V652.67 M449.80,653.10V652.43 M454.00,653.10V652.57 M457.50,653.10V652.28 M459.60,653.10V652.68 M462.40,653.10V652.50 M463.80,653.10V652.68 M472.20,653.10V652.70 M475.00,653.10V652.11 M475.70,653.10V652.05 M479.90,653.10V652.61 M480.60,653.10V652.63 M482.00,653.10V652.52 M489.70,653.10V652.70 M490.40,653.10V652.70 M496.70,653.10V652.66 M497.40,653.10V652.29 M498.10,653.10V652.69 M501.60,653.10V652.27 M503.70,653.10V652.66 M504.40,653.10V652.47 M505.10,653.10V652.70" stroke="#8a8a8a" stroke-width="0.6" fill="none"/>
<line x1="35.20" y1="653.10" x2="291.70" y2="653.10" stroke="#8a8a8a" stroke-width="1.0" />
<line x1="292.50" y1="653.10" x2="306.20" y2="653.10" stroke="#8a8a8a" stroke-width="1.0" stroke-dasharray="1,1.3"/>
<line x1="306.20" y1="653.10" x2="513.40" y2="653.10" stroke="#8a8a8a" stroke-width="1.0" />
<line x1="36.00" y1="653.10" x2="36.00" y2="650.60" stroke="#767676" stroke-width="0.8" />
<line x1="82.50" y1="653.10" x2="82.50" y2="646.60" stroke="#767676" stroke-width="0.8" />
<line x1="94.50" y1="653.10" x2="94.50" y2="646.60" stroke="#767676" stroke-width="0.8" />
<line x1="124.50" y1="653.10" x2="124.50" y2="649.60" stroke="#767676" stroke-width="0.8" />
<line x1="197.30" y1="653.10" x2="197.30" y2="647.60" stroke="#767676" stroke-width="0.8" />
<line x1="203.30" y1="653.10" x2="203.30" y2="647.10" stroke="#767676" stroke-width="0.8" />
<line x1="203.90" y1="653.10" x2="203.90" y2="647.60" stroke="#767676" stroke-width="0.8" />
<line x1="211.60" y1="653.10" x2="211.60" y2="648.60" stroke="#767676" stroke-width="0.8" />
<line x1="214.20" y1="653.10" x2="214.20" y2="648.60" stroke="#767676" stroke-width="0.8" />
<line x1="435.40" y1="653.10" x2="435.40" y2="649.60" stroke="#767676" stroke-width="0.8" />
<line x1="307.70" y1="653.10" x2="307.70" y2="648.60" stroke="#767676" stroke-width="0.8" />
<rect x="0.00" y="0.00" width="520.00" height="1.00" fill="#111"/>
<rect x="0.00" y="0.00" width="1.20" height="661.00" fill="#111"/>
<rect x="518.70" y="0.00" width="1.30" height="661.00" fill="#111"/>
<rect x="0.00" y="659.60" width="520.00" height="1.40" fill="#111"/>
</svg>
</body></html>
